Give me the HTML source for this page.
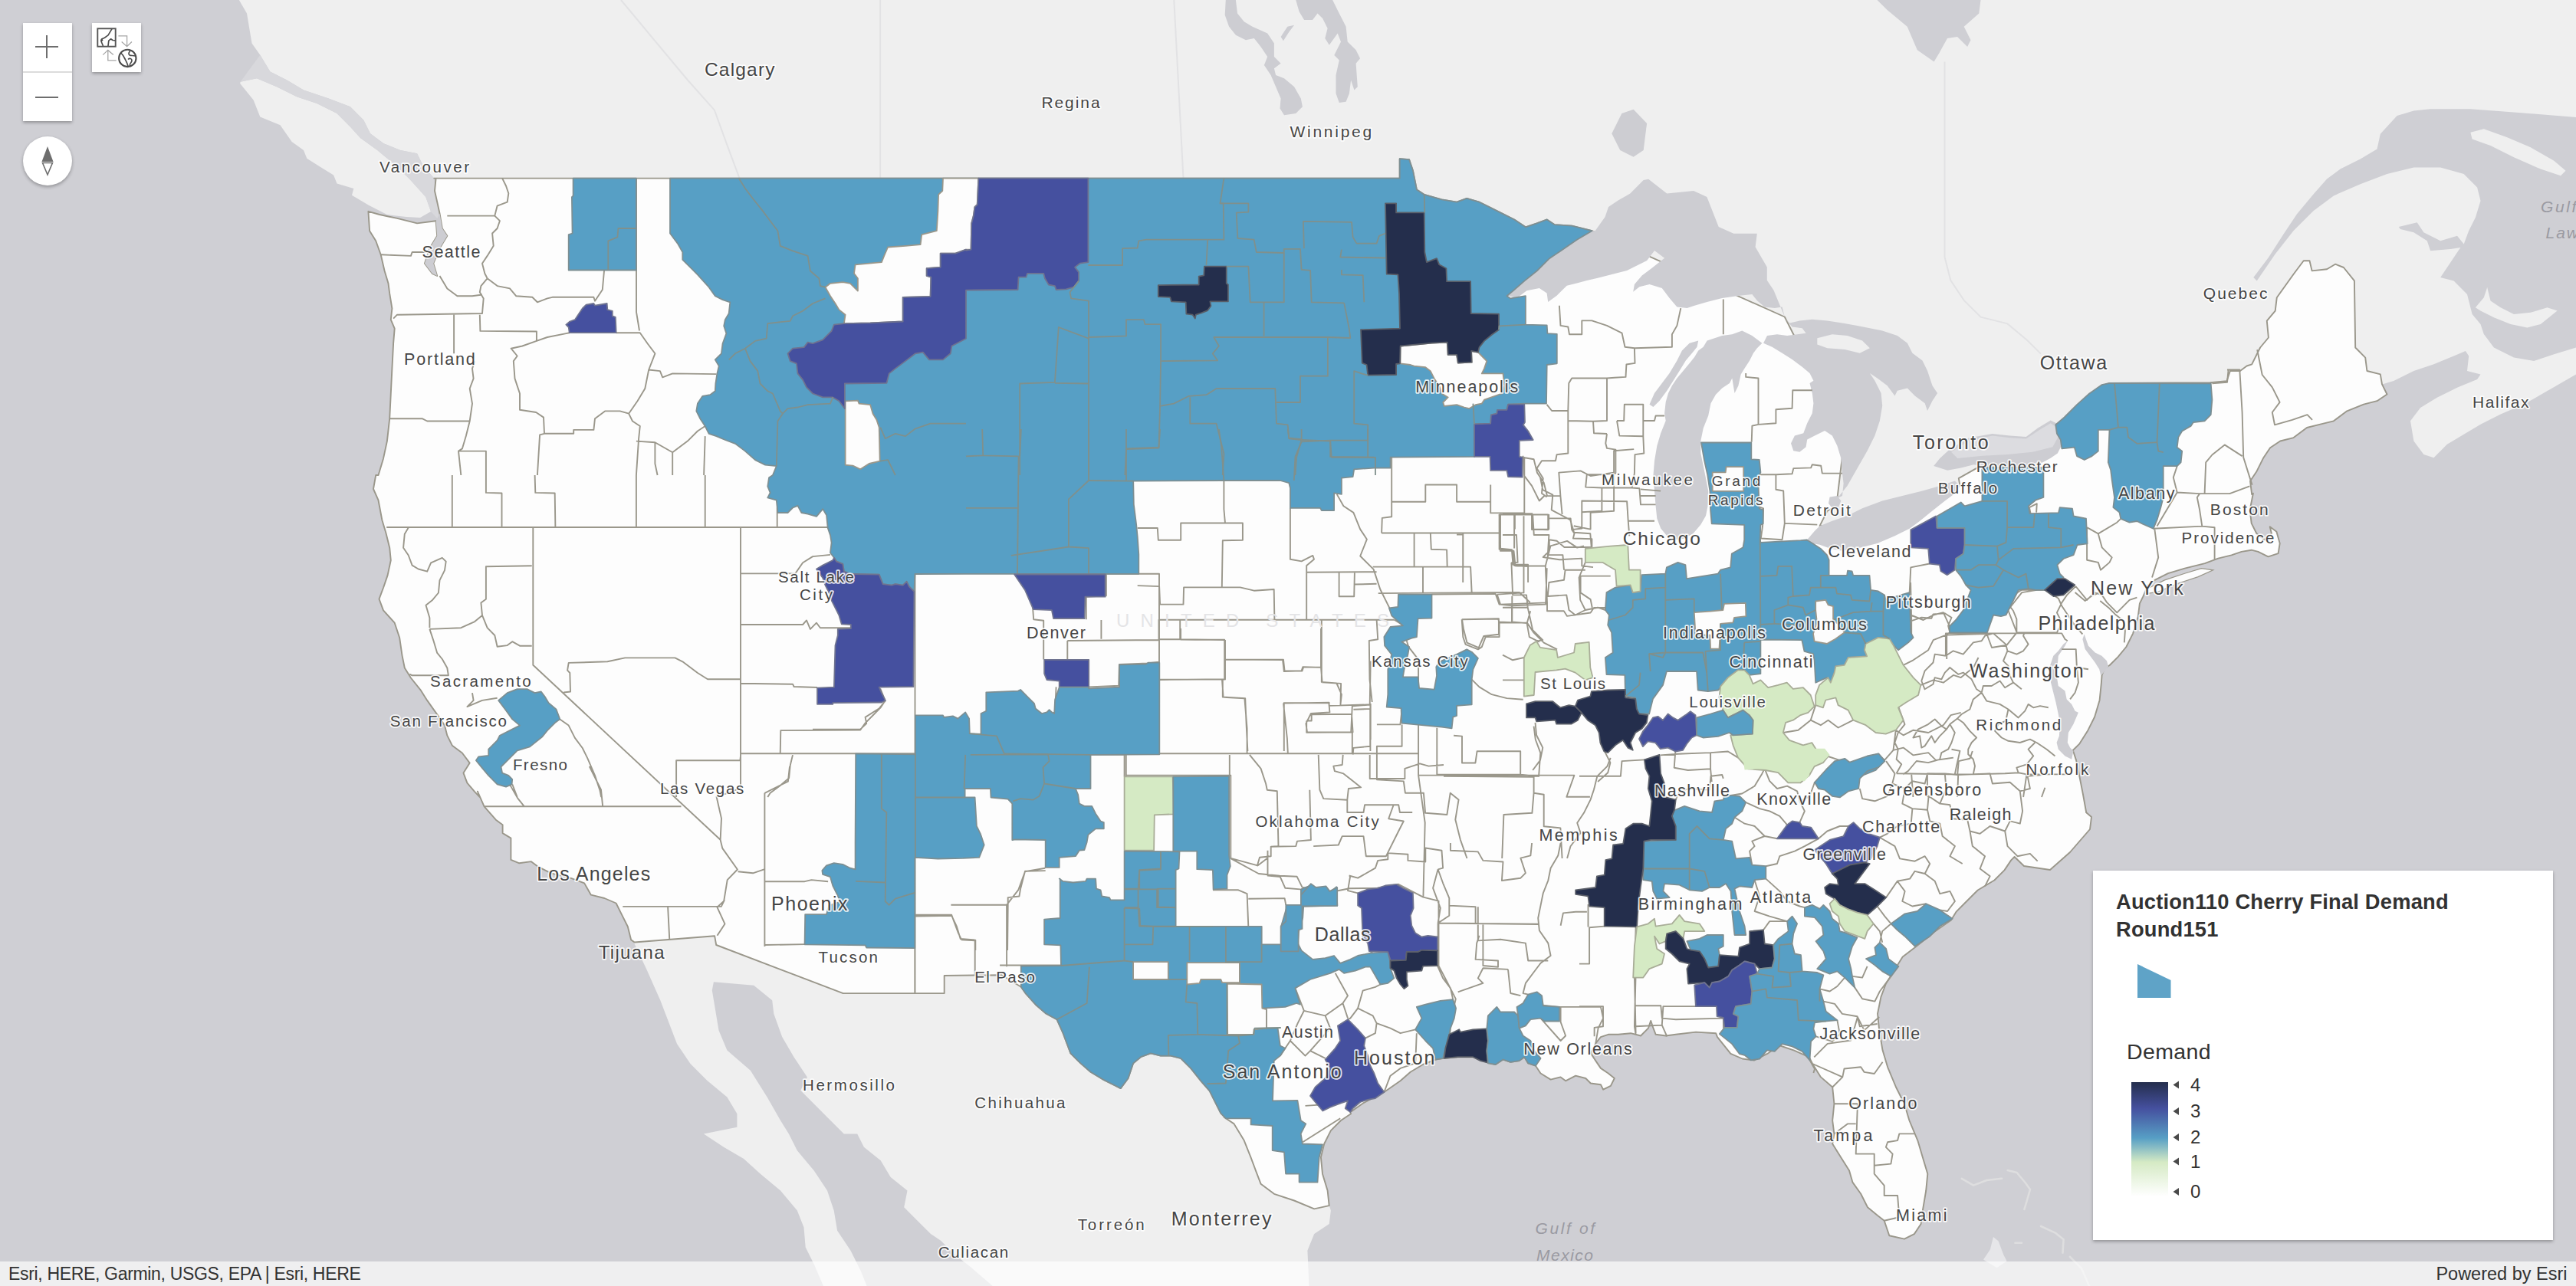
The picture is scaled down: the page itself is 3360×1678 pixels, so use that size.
<!DOCTYPE html>
<html><head><meta charset="utf-8"><title>Map</title>
<style>
html,body{margin:0;padding:0;background:#cfcfd4;}
body{width:3360px;height:1678px;overflow:hidden;position:relative;font-family:"Liberation Sans",sans-serif;}
svg text{font-family:"Liberation Sans",sans-serif;}
#map{position:absolute;left:0;top:0;}
.w{position:absolute;background:#fff;box-shadow:0 2px 4px rgba(0,0,0,.3);}
#zoom{left:30px;top:30px;width:64px;height:128px;}
#zoom .d{position:absolute;left:0;top:63px;width:64px;height:2px;background:#dcdcdc;}
#bm{left:120px;top:30px;width:64px;height:64px;}
#cmp{left:30px;top:178px;width:64px;height:64px;border-radius:50%;}
#legend{left:2730px;top:1136px;width:600px;height:482px;box-shadow:0 2px 4px rgba(0,0,0,.3);}
#legend .t{position:absolute;left:30px;top:23px;font-weight:bold;font-size:27.3px;line-height:35.5px;color:#323232;letter-spacing:0.2px;white-space:nowrap;}
#legend .dm{position:absolute;left:44px;top:219.5px;font-size:28.5px;color:#323232;letter-spacing:0.4px;}
#legend .n{position:absolute;left:127px;font-size:24px;color:#323232;line-height:24px;}
#attr{position:absolute;left:0;top:1646px;width:3360px;height:32px;background:rgba(255,255,255,.66);font-size:24px;line-height:32px;color:#323232;}
#attr .l{position:absolute;left:11px;top:0;font-size:23px;letter-spacing:-0.33px}
#attr .r{position:absolute;right:11.5px;top:0;font-size:23.5px;letter-spacing:0px}
</style></head><body>
<svg id="map" width="3360" height="1678" viewBox="0 0 3360 1678">
<rect width="3360" height="1678" fill="#cfcfd4"/>
<polygon points="305,-5 2449,-5 2448.5,0 2461.6,13.1 2487.7,34.8 2500.8,65.3 2522.6,80.6 2529.1,69.7 2540,50.1 2553,47.9 2566.1,61 2570.5,52.3 2561.7,34.8 2581.3,17.4 2583.5,0 3370,-5 3370,153 3366.1,153.1 3360,153.1 3279,146.5 3222.4,142.2 3170.1,142.2 3148.4,144.4 3126.6,150.9 3104.8,174.8 3100.5,194.4 3078.7,207.5 3052.6,220.6 3035.1,233.6 3017.7,253.2 2996,279.3 2978.5,305.5 2958.9,336 2939.3,362.1 2943.7,366.4 2967.7,331.6 2991.6,301.1 3017.7,275 3043.9,255.4 3078.7,240.2 3113.5,227.1 3148.4,218.4 3183.2,218.4 3213.7,227.1 3231.1,244.5 3235.5,261.9 3228.9,283.7 3220.2,301.1 3213.7,318.5 3205,307.7 3183.2,314.2 3161.4,303.3 3152.7,290.2 3128.8,295.9 3130.9,298.9 3148.4,303.3 3165.8,314.2 3170.1,327.2 3196.3,325.1 3209.3,322.9 3183.2,362.1 3200.6,366.4 3218,383.9 3224.6,410 3235.5,423 3239.8,436.1 3239.8,436.1 3252.9,453.5 3279,466.6 3305.1,470.9 3331.3,462.2 3360,453.5 3366.1,451.4 3366.1,484 3360,488.4 3322.6,510.1 3292.1,527.6 3261.6,540.6 3235.5,553.7 3213.7,566.7 3191.9,579.8 3174.5,597.2 3161.4,592.9 3148.4,575.5 3144,549.3 3157.1,531.9 3178.8,518.8 3205,505.8 3231.1,494.9 3235.5,488.4 3218,484 3220.2,464.4 3215.9,457.9 3200.6,464.4 3174.5,475.3 3148.4,484 3122.2,497.1 3107,501.4 3107,501.4 3113.5,514.5 3100.5,523.2 3083,527.6 3061.3,536.3 3043.9,549.3 3026.4,553.7 3009,558 2991.6,571.1 2974.2,575.5 2961.1,584.2 2952.4,597.2 2943.7,614.7 2935,627.7 2937.2,645.1 2938.9,643.7 2934.6,665.5 2936.7,682.9 2943.3,696 2954.2,704.7 2962.9,696 2960.7,687.2 2969.4,693.8 2973.7,709 2971.6,722.1 2958.5,726.4 2945.4,719.9 2936.7,717.7 2923.7,719.9 2910.6,724.3 2893.2,728.6 2875.8,735.1 2849.6,741.7 2827.9,748.2 2810.5,756.9 2801.7,763.5 2795.2,778.7 2790.9,787.4 2788.7,804.8 2782.1,826.6 2773.4,844 2762.6,857.1 2751.7,868 2745.1,872.3 2741.6,881 2740.8,891.9 2738.6,913.7 2732.1,935.5 2723.4,952.9 2712.5,970.3 2703.8,979 2708.1,992.1 2712.5,1013.8 2716.8,1035.6 2721.2,1060 2721,1060 2728,1066 2726,1082 2700,1112 2674,1135 2640,1130 2627.6,1118 2623.2,1122.4 2614.5,1135.4 2601.4,1148.5 2579.7,1161.5 2562.2,1179 2551.4,1189.9 2544.8,1200.7 2523,1216 2501.3,1233.4 2481.7,1248.6 2470.8,1266.1 2459.9,1283.5 2453.4,1300.9 2449,1322.7 2451.2,1344.4 2455.6,1370.6 2462.1,1392.3 2473,1418.5 2483.9,1440.2 2490.4,1462 2501.3,1488.1 2507.8,1509.9 2514.3,1531.7 2512.2,1553.5 2507.8,1579.6 2505.6,1597 2496.9,1610.1 2483.9,1616.6 2464.3,1612.2 2457.7,1592.7 2449,1586.1 2436,1575.2 2427.2,1557.8 2416.4,1542.6 2412,1527.3 2401.1,1509.9 2390.2,1492.5 2392.4,1479.4 2390.2,1462 2392.4,1440.2 2390.2,1418.5 2375,1405.4 2364.1,1388 2359.8,1379.3 2340.2,1370.6 2320.6,1364 2305.3,1374.9 2287.9,1383.6 2272.7,1381.5 2257.4,1374.9 2240,1353.1 2238.1,1348.2 2212,1346.6 2185.8,1349.8 2172.8,1351.5 2159.7,1349.8 2156.5,1341.7 2153.2,1331.9 2149.9,1341.7 2140.1,1351.5 2127.1,1348.2 2110.7,1349.8 2097.7,1349.8 2087.9,1353.1 2081.3,1361.3 2074.8,1374.3 2081.3,1384.1 2087.9,1393.9 2097.7,1400.5 2105.8,1407 2100.9,1416.8 2091.1,1421.7 2087.9,1415.2 2074.8,1413.5 2068.3,1407 2055.2,1403.7 2042.1,1410.3 2035.6,1405.4 2022.6,1408.6 2009.5,1400.5 2003,1390.7 1993.2,1387.4 1988.3,1379.2 1981.7,1384.1 1970.3,1385.8 1960.5,1382.5 1950.7,1389 1940.9,1386.7 1921.3,1379.2 1901.7,1379.2 1883.7,1380.9 1872.3,1382.5 1856,1389 1839.7,1398.8 1826.6,1410.3 1805.4,1425 1777.6,1439.7 1761.3,1451.1 1762.1,1453.3 1749,1462 1735.9,1475.1 1727.2,1492.5 1722.9,1509.9 1725,1531.7 1731.6,1553.5 1733.7,1573.1 1733.7,1573.1 1735.9,1579.6 1733.7,1597 1714.2,1610.1 1705.4,1631.8 1707.6,1679.7 1296.7,1679.7 1266.3,1653.6 1244.5,1636.2 1227.1,1618.8 1214,1610.1 1196.6,1592.7 1179.2,1575.2 1183.5,1553.5 1161.7,1536 1148.7,1514.3 1126.9,1496.8 1118.2,1479.4 1100.8,1479.4 1079,1457.7 1061.6,1440.2 1044.2,1422.8 1052.9,1405.4 1035.5,1379.3 1020.2,1353.1 1009.3,1322.7 1007.2,1305.2 983.2,1285.7 930.9,1281.3 928.8,1292.2 937.5,1344.4 948.4,1370.6 978.8,1396.7 1000.6,1431.5 1018,1462 1028.9,1479.4 1039.8,1501.2 1061.6,1527.3 1079,1553.5 1087.7,1579.6 1092.1,1605.7 1109.5,1631.8 1122.6,1658 1131.3,1679.7 1074.7,1679.7 1061.6,1649.3 1050.7,1627.5 1048.5,1601.4 1039.8,1579.6 1018,1553.5 991.9,1531.7 970.1,1512.1 944,1496.8 917.9,1479.4 961.4,1470.7 961.4,1453.3 948.4,1431.5 922.2,1409.8 900.5,1388 883,1361.9 861.3,1305.2 843.9,1266.1 826.4,1229 827.6,1229.5 823.2,1226.4 818.8,1209 810.1,1191.6 803.6,1178.5 788.4,1172 770.9,1167.7 762.2,1152.4 744.8,1145.9 718.7,1139.3 701.3,1130.6 692.6,1124.1 677.3,1126.3 666.4,1121.9 666.4,1093.6 655.6,1087.1 655.6,1076.2 646.8,1069.7 631.6,1052.3 622.9,1032.7 625.8,1040 619.2,1033.1 609.4,1021.7 604.5,1008.6 612.7,995.6 602.9,982.5 589.8,972.7 583.3,959.7 580,946.6 573.5,936.8 565.3,925.4 557.2,913.9 549,900.9 535.9,884.5 527.8,871.5 524.5,855.1 521.2,832.3 514.7,812.7 500,796.4 494.5,781.7 500,767 505.6,750.6 509.8,731 508.2,714.7 503.3,695.1 498.4,678.8 493.5,652.7 487,638 490.2,620 493.5,620 500,598.4 504.9,575.6 508.2,546.2 509.8,513.5 511.4,480.9 513.1,448.2 514.7,428.6 509.8,417.2 511.4,402.5 508.2,382.9 506.5,369.8 501.6,353.5 496.7,332.3 490.2,314.3 482.1,301.2 480.4,275.8 495.1,280 518,284.9 544.1,291.4 568.6,288.2 570.2,307.8 560.4,324.1 553.9,343.7 563.7,356.8 570.2,360 565.3,343.7 573.5,324.1 583.3,307.8 576.8,298 573.5,278.4 567,249 568.6,232.7 566.2,232.6 552.7,217.7 544,200.3 522.2,196 500.5,187.2 483,174.2 474.3,156.8 456.9,139.3 428.6,128.5 396,117.6 374.2,104.5 352.4,93.6 339.3,71.8 328.5,56.6 322,17.4 308.9,-5" fill="#efefef"/>
<polygon points="313.6,106.7 335,102.3 361,113.2 387.2,126.3 413.4,135 439.5,148 456.9,165.5 470,180 492.2,196 518.3,217.8 535.7,235.2 555.3,257 562,276 548,284 530,283 504.8,280 480.9,267.8 459,254.7 461.3,246 439.5,239.5 435.1,228.6 417.7,217.7 400.3,206.8 396,196 380.7,185 365.5,163.3 339.3,152.4 330.6,130.6 313.2,108.9" fill="#efefef"/>
<polygon points="3222.4,172.7 3239.8,168.3 3270.3,179.2 3300.8,192.3 3331.3,209.7 3346.5,222.7 3340,229.3 3313.8,220.6 3279,205.3 3248.5,190.1 3224.6,181.4" fill="#efefef"/>
<polygon points="3228.9,401.3 3239.8,388.2 3244.2,375.1 3248.5,392.6 3261.6,401.3 3279,410 3300.8,407.8 3322.6,401.3 3335.6,405.6 3313.8,423 3296.4,427.4 3274.7,423 3252.9,414.3 3235.5,405.6" fill="#efefef"/>
<polygon points="339.3,71.8 352.4,93.6 374.2,104.5 396,117.6 428.6,128.5 456.9,139.3 474.3,156.8 483,174.2 500.5,187.2 522.2,196 544,200.3 552.7,217.7 566.2,232.6 568,255 575,290 562,276 555.3,257 535.7,235.2 518.3,217.8 492.2,196 470,180 456.9,165.5 439.5,148 413.4,135 387.2,126.3 361,113.2 335,102.3 313.6,106.7" fill="#d8d8dc"/>
<polygon points="2102.3,174.2 2115.4,148.1 2130.6,142.8 2148.1,161.1 2143.7,196 2130.6,204.7 2113.2,196" fill="#cdcdd2"/>
<polygon points="1598.8,0 1611.9,0 1614,17.4 1622.7,28.3 1633.6,34.8 1653.2,43.5 1661.9,56.6 1661.9,74 1670.6,82.7 1661.9,89.3 1664.1,98 1675,102.3 1688.1,113.2 1696.8,128.5 1698.9,139.3 1690.2,148.1 1675,150.2 1669.5,141.5 1670.6,128.5 1664.1,113.2 1657.6,98 1648.9,84.9 1653.2,74 1644.5,61 1635.8,50.1 1624.9,52.3 1611.9,45.7 1603.1,34.8 1597.7,19.6" fill="#cdcdd2"/>
<polygon points="1690.2,0 1738.1,0 1746.8,17.4 1755.6,34.8 1757.7,54.4 1768.6,65.3 1774.1,76.2 1768.6,82.7 1770.8,113.2 1766.4,117.6 1762.1,104.5 1759.9,121.9 1755.6,132.8 1746.8,133.9 1742.5,121.9 1742.5,98 1746.8,78.4 1740.3,71.9 1749,54.4 1744.7,43.5 1733.8,58.8 1728.3,50.1 1731.6,37 1725.1,24 1718.5,17.4 1712,26.1 1701.1,26.1 1694.6,15.2" fill="#cdcdd2"/>
<polygon points="1670.6,47.9 1679.3,34.8 1688.1,32.7 1681.5,41.4 1673.9,53.3" fill="#cdcdd2"/>
<polyline points="2558.8,1537.8 2574,1546.6 2591.4,1540 2611,1537.8" fill="none" stroke="#dededf" stroke-width="2.6" stroke-linecap="round" stroke-linejoin="round"/>
<polyline points="2618.7,1527 2630.6,1530 2641.5,1543 2648,1552 2643.7,1567 2640.4,1578" fill="none" stroke="#dededf" stroke-width="2.6" stroke-linecap="round" stroke-linejoin="round"/>
<polyline points="2662,1600 2680.7,1608.6 2691.6,1617.3 2690.5,1634.7" fill="none" stroke="#dededf" stroke-width="2.6" stroke-linecap="round" stroke-linejoin="round"/>
<polyline points="2628.5,1621.7 2637,1621.7" fill="none" stroke="#dededf" stroke-width="2.6" stroke-linecap="round" stroke-linejoin="round"/>
<polyline points="2700,1640 2715,1655 2725,1678" fill="none" stroke="#dededf" stroke-width="2.6" stroke-linecap="round" stroke-linejoin="round"/>
<polygon points="2600,1614 2606.7,1619.5 2613.2,1637 2617.6,1645.6 2604.5,1654.3 2587,1643.4 2595.8,1630.4" fill="#e6e6e9"/>
<polyline points="2536.5,80.6 2536.5,335.3 2544.3,365.8 2561.7,391.9 2583.5,413.7 2618.4,422.4 2644.5,444.2 2661.9,461.6" fill="none" stroke="#e2e2e4" stroke-width="2"/>
<polyline points="1148.1,0 1148.1,232.5" fill="none" stroke="#e2e2e4" stroke-width="2"/>
<polyline points="1531.3,0 1543.5,232.5" fill="none" stroke="#e2e2e4" stroke-width="2"/>
<polyline points="810,0 853.5,52.3 897,104.5 931.9,143.7 949.3,191.6 964.5,232.5" fill="none" stroke="#e2e2e4" stroke-width="2"/>
<polygon points="568.6,232.7 567,249 573.5,278.4 576.8,298 583.3,307.8 573.5,324.1 565.3,343.7 570.2,360 563.7,356.8 553.9,343.7 560.4,324.1 570.2,307.8 568.6,288.2 544.1,291.4 518,284.9 495.1,280 480.4,275.8 482.1,301.2 490.2,314.3 496.7,332.3 501.6,353.5 506.5,369.8 508.2,382.9 511.4,402.5 509.8,417.2 514.7,428.6 513.1,448.2 511.4,480.9 509.8,513.5 508.2,546.2 504.9,575.6 500,598.4 493.5,620 490.2,620 487,638 493.5,652.7 498.4,678.8 503.3,695.1 508.2,714.7 509.8,731 505.6,750.6 500,767 494.5,781.7 500,796.4 514.7,812.7 521.2,832.3 524.5,855.1 527.8,871.5 535.9,884.5 549,900.9 557.2,913.9 565.3,925.4 573.5,936.8 580,946.6 583.3,959.7 589.8,972.7 602.9,982.5 612.7,995.6 604.5,1008.6 609.4,1021.7 619.2,1033.1 625.8,1040 622.9,1032.7 631.6,1052.3 646.8,1069.7 655.6,1076.2 655.6,1087.1 666.4,1093.6 666.4,1121.9 677.3,1126.3 692.6,1124.1 701.3,1130.6 718.7,1139.3 744.8,1145.9 762.2,1152.4 770.9,1167.7 788.4,1172 803.6,1178.5 810.1,1191.6 818.8,1209 823.2,1226.4 827.6,1229.5 932.1,1221.2 934.2,1233 1099.7,1296.1 1231.7,1296.1 1231.7,1273 1306.6,1272.2 1331.8,1287.8 1337.6,1296 1350.7,1310.7 1363.8,1322.1 1378.5,1330.2 1386.6,1348.2 1391.5,1361.3 1396.4,1374.3 1409.5,1387.4 1422.6,1398.8 1438.9,1408.6 1455.2,1416.8 1461.7,1420.1 1471.5,1407 1478.1,1387.4 1487.9,1379.2 1500.9,1374.3 1514,1377.6 1527.1,1377.6 1540.1,1380.9 1553.2,1393.9 1566.3,1410.3 1577.7,1423.3 1585.8,1439.7 1592.4,1452.7 1598.9,1459.3 1596.6,1457.7 1609.6,1466.4 1622.7,1488.1 1631.4,1509.9 1637.9,1527.3 1644.5,1544.7 1661.9,1557.8 1688,1566.5 1714.2,1577.4 1733.7,1573.1 1731.6,1553.5 1725,1531.7 1722.9,1509.9 1727.2,1492.5 1735.9,1475.1 1749,1462 1762.1,1453.3 1761.3,1451.1 1777.6,1439.7 1805.4,1425 1826.6,1410.3 1839.7,1398.8 1856,1389 1872.3,1382.5 1883.7,1380.9 1901.7,1379.2 1921.3,1379.2 1940.9,1386.7 1950.7,1389 1960.5,1382.5 1970.3,1385.8 1981.7,1384.1 1988.3,1379.2 1993.2,1387.4 2003,1390.7 2009.5,1400.5 2022.6,1408.6 2035.6,1405.4 2042.1,1410.3 2055.2,1403.7 2068.3,1407 2074.8,1413.5 2087.9,1415.2 2091.1,1421.7 2100.9,1416.8 2105.8,1407 2097.7,1400.5 2087.9,1393.9 2081.3,1384.1 2074.8,1374.3 2081.3,1361.3 2087.9,1353.1 2097.7,1349.8 2110.7,1349.8 2127.1,1348.2 2140.1,1351.5 2149.9,1341.7 2153.2,1331.9 2156.5,1341.7 2159.7,1349.8 2172.8,1351.5 2185.8,1349.8 2212,1346.6 2238.1,1348.2 2240,1353.1 2257.4,1374.9 2272.7,1381.5 2287.9,1383.6 2305.3,1374.9 2320.6,1364 2340.2,1370.6 2359.8,1379.3 2364.1,1388 2375,1405.4 2390.2,1418.5 2392.4,1440.2 2390.2,1462 2392.4,1479.4 2390.2,1492.5 2401.1,1509.9 2412,1527.3 2416.4,1542.6 2427.2,1557.8 2436,1575.2 2449,1586.1 2457.7,1592.7 2464.3,1612.2 2483.9,1616.6 2496.9,1610.1 2505.6,1597 2507.8,1579.6 2512.2,1553.5 2514.3,1531.7 2507.8,1509.9 2501.3,1488.1 2490.4,1462 2483.9,1440.2 2473,1418.5 2462.1,1392.3 2455.6,1370.6 2451.2,1344.4 2449,1322.7 2453.4,1300.9 2459.9,1283.5 2470.8,1266.1 2481.7,1248.6 2501.3,1233.4 2523,1216 2544.8,1200.7 2551.4,1189.9 2562.2,1179 2579.7,1161.5 2601.4,1148.5 2614.5,1135.4 2623.2,1122.4 2627.6,1118 2640,1130 2674,1135 2700,1112 2726,1082 2728,1066 2721,1060 2721.2,1060 2716.8,1035.6 2712.5,1013.8 2708.1,992.1 2703.8,979 2712.5,970.3 2723.4,952.9 2732.1,935.5 2738.6,913.7 2740.8,891.9 2741.6,881 2745.1,872.3 2751.7,868 2762.6,857.1 2773.4,844 2782.1,826.6 2788.7,804.8 2790.9,787.4 2795.2,778.7 2801.7,763.5 2810.5,756.9 2827.9,748.2 2849.6,741.7 2875.8,735.1 2893.2,728.6 2910.6,724.3 2923.7,719.9 2936.7,717.7 2945.4,719.9 2958.5,726.4 2971.6,722.1 2973.7,709 2969.4,693.8 2960.7,687.2 2962.9,696 2954.2,704.7 2943.3,696 2936.7,682.9 2934.6,665.5 2938.9,643.7 2937.2,645.1 2935,627.7 2943.7,614.7 2952.4,597.2 2961.1,584.2 2974.2,575.5 2991.6,571.1 3009,558 3026.4,553.7 3043.9,549.3 3061.3,536.3 3083,527.6 3100.5,523.2 3113.5,514.5 3107,501.4 3107,501.4 3104.8,488.4 3087.4,484 3085.2,466.6 3072.2,453.5 3070.9,366.4 3056.9,349 3046,344.7 3035.1,351.2 3015.6,353.4 3012.5,340.3 3004.7,340.3 2991.6,357.7 2969.8,388.2 2967.7,405.6 2956.8,418.7 2958.9,440.5 2948.1,453.5 2943.7,462.2 2937.2,475.3 2930.6,477.5 2921.9,484 2908.9,484 2904.5,497.1 2882.7,499.3 2751,500 2748.2,501.3 2726.4,518.7 2700.3,540.5 2685,562.2 2618.5,588.2 2554.8,624.1 2556.5,633.9 2455.2,682.9 2373.6,686.2 2383.4,666.6 2389.9,663.3 2396.4,650.3 2406.2,568.6 2327.8,413.5 2076.5,301.2 2050.4,294.7 2027.5,293.1 2017.7,286.5 2004.6,291.4 1989.9,296.3 1975.2,286.5 1958.9,278.4 1942.6,270.2 1929.5,263.7 1913.2,258.8 1900.1,263.7 1880.5,260.4 1857.7,253.9 1847.9,247.4 1843,222.9 1838.1,208.2 1825.7,207.2 1825.7,232.7 566.2,232.6" fill="#fdfdfd" stroke="#9a978b" stroke-width="1.9" stroke-linejoin="round"/>
<polygon points="2080.6,301.3 2093.6,283 2098,270 2111,261.3 2126.3,252.6 2143.7,235.1 2150.2,233.8 2174.2,252.6 2209,249.1 2226.4,256.9 2241.7,296.1 2261.3,304.8 2291.8,304.8 2289.6,322.2 2304.8,348.4 2304.8,365.8 2313.5,378.8 2327.8,413.5 2324.6,400.4 2314.8,402.1 2301.7,400.4 2291.9,392.3 2285.4,384.1 2269.1,385.7 2246.2,389 2226.6,393.9 2210.3,398.8 2200.5,402.1 2187.4,400.4 2177.6,389 2167.8,375.9 2151.5,371 2138.4,374.3 2130.2,380.8 2131.9,371 2141.7,359.6 2154.7,349.8 2171.1,336.7 2158,326.9 2148.2,340 2135.1,346.5 2122.1,353.1 2102.5,358 2082.9,362.9 2069.8,366.1 2056.8,369.4 2043.7,372.7 2030.6,385.7 2019.2,393.9 2017.6,382.5 2007.8,375.9 1991.4,379.2 1978.4,389 1965.3,385.7 1965.4,386.2 1975.2,378 1988.3,366.6 2004.6,353.5 2021,337.2 2040.6,324.1 2056.9,312.7 2076.5,301.2" fill="#cdcdd2"/>
<polygon points="2298.4,447.8 2285.4,438 2272.3,431.4 2259.3,436.3 2246.2,438 2236.4,441.2 2226.6,444.5 2221.7,452.7 2215.2,457.6 2210.3,465.7 2203.7,473.9 2195.6,483.7 2187.4,493.5 2180.9,503.3 2176,513.1 2172.7,524.5 2171.1,539.2 2172.7,549 2166.2,565.3 2161.3,581.7 2158,601.3 2156.4,620.9 2158,640.5 2159.6,660.1 2161.3,676.4 2166.2,689.5 2174.3,699.3 2185.8,704.2 2197.2,702.5 2208.6,696 2218.4,684.6 2225,673.1 2228.2,656.8 2228.2,640.5 2225,624.1 2221.7,607.8 2218.4,591.5 2218.4,575.1 2221.7,558.8 2228.2,542.5 2231.5,526.2 2238,514.7 2246.2,506.6 2256,500 2259.3,493.5 2262.5,513.1 2267.4,503.3 2270.7,488.6 2275.6,480.4 2282.1,470.6 2287,460.8 2291.9,454.3" fill="#cdcdd2"/>
<polygon points="2151.5,527.8 2158,513.1 2167.8,500 2177.6,487 2187.4,470.6 2193.9,457.6 2203.7,447.8 2215.2,444.5 2213.5,452.7 2207,460.8 2198.8,470.6 2190.7,483.7 2182.5,496.8 2174.3,509.8 2164.5,522.9 2156.4,531.1" fill="#cdcdd2"/>
<polygon points="2300.1,447.8 2311.5,452.7 2324.6,460.8 2337.6,469 2350.7,478.8 2360.5,487 2365.4,496.8 2360.5,500 2363.8,513.1 2365.4,526.2 2363.8,539.2 2357.2,552.3 2352.3,565.3 2340.9,568.6 2336,578.4 2339.3,588.2 2347.4,589.8 2355.6,583.3 2357.2,573.5 2367,568.6 2380.1,562.1 2389.9,568.6 2396.4,581.7 2401.3,598 2403,617.6 2404.6,630.7 2403,647 2396.4,650.3 2409.5,633.9 2422.6,611.1 2435.6,588.2 2445.4,568.6 2451.9,549 2455.2,529.4 2453.6,513.1 2445.4,496.8 2438.9,487 2448.7,493.5 2461.7,503.3 2471.5,516.4 2474.8,509.8 2487.9,506.6 2497.7,516.4 2510.7,526.2 2514,536 2520.5,522.9 2527.1,513.1 2520.5,503.3 2514,483.7 2507.5,470.6 2494.4,460.8 2487.9,447.8 2474.8,438 2455.2,431.4 2438.9,428.2 2422.6,424.9 2403,421.6 2383.4,418.4 2363.8,416.7 2347.4,418.4 2334.4,421.6 2327.8,415.1 2337.6,426.5 2350.7,428.2 2355.6,434.7 2344.2,436.3 2331.1,438 2318,436.3 2305,438" fill="#cdcdd2"/>
<polygon points="2357.2,704.2 2367,692.7 2373.6,686.2 2389.9,679.7 2409.5,673.1 2429.1,663.3 2455.2,653.5 2481.3,647 2507.5,640.5 2530.3,633.9 2549.9,627.4 2556.5,633.9 2549.9,643.7 2536.9,653.5 2520.5,666.6 2504.2,679.7 2491.1,689.5 2471.5,699.3 2448.7,709.1 2422.6,715.6 2403,718.8 2386.6,715.6 2373.6,710.7 2363.8,709.1" fill="#cdcdd2"/>
<polygon points="2386.6,648.6 2396.4,647 2401.3,653.5 2398.1,661.7 2389.9,663.3 2385,656.8" fill="#cdcdd2"/>
<polygon points="2522.2,608.1 2530.3,598 2543.4,585.9 2567.6,571.6 2598.6,566 2621.8,568.6 2642.7,569.9 2657.7,558.8 2674.7,548.4 2682.2,552.3 2688.1,562.1 2688.7,581.7 2683.8,591.5 2674.7,597.7 2651.8,610.1 2628.3,612.7 2608.7,611.7 2574.4,606.2 2557.8,610.4 2540.1,613.7" fill="#cdcdd2"/>
<polygon points="2700.1,975.6 2696.8,969 2697.9,956 2704.4,945.1 2710.9,929.8 2706.6,927.7 2702.2,918.9 2695.7,912.4 2693.5,901.5 2684.8,895 2682.6,881.9 2683.7,868.9 2684.8,855.8 2693.5,842.7 2696.8,836.2 2691.4,840.6 2684.8,849.3 2678.3,855.8 2673.9,868.9 2675,890.6 2678.3,903.7 2681.6,916.8 2684.8,932 2687,945.1 2685.9,960.3 2682.6,969 2684.8,977.7 2693.5,986.4 2702.2,990.8 2704.4,979.9" fill="#cdcdd2"/>
<polygon points="2718.6,827.5 2724,842.7 2732.7,851.4 2741.4,855.8 2748,862.3 2750.1,870 2748,872.1 2740.3,881.9 2738.2,873.2 2732.7,864.5 2726.2,855.8 2719.7,847.1 2716.4,834" fill="#cdcdd2"/>
<polygon points="573.5,278.4 576.8,298 583.3,307.8 573.5,324.1 565.3,343.7 570.2,360 563.7,356.8 553.9,343.7 560.4,324.1 570.2,307.8 568.6,288.2" fill="#cdcdd2"/>
<polygon points="2569.5,574.5 2598.9,568.6 2621.8,571.2 2642.7,572.5 2661,560.5 2674.7,552.3 2682.2,557.2 2685.5,568.6 2677.3,583.3 2651.2,589.8 2618.5,593.1 2585.8,594.7 2553.2,598 2545,589.8" fill="#dcdce0"/>
<polygon points="2370.3,441.2 2389.9,436.3 2409.5,438 2429.1,444.5 2438.9,454.3 2425.8,460.8 2406.2,455.9 2383.4,454.3 2370.3,449.4" fill="#efefef"/>
<polygon points="2801.7,767.8 2823.5,756.9 2849.6,748.2 2871.4,741.7 2886.7,743.9 2867.1,752.6 2840.9,761.3 2814.8,772.2 2801.7,774.3" fill="#fdfdfd" stroke="#9a978b" stroke-width="1.2"/>
<path d="M830 232.6 L830 407.2 L834 431.5M504.2 688 L1102.5 688M695.3 688 L695.3 867.7 L939.6 1095.8M939.6 1095.8 L942.3 1106.9 L961.9 1134.5 L948.7 1148.2 L944.2 1175.6 L935.5 1183.8 L945.5 1205.6 L935.5 1220.7M939.6 1095.8 L941 1067.9 L934.6 1039.8 L966 1028.6 L966 688M966 983.2 L1850.1 983.2M1193.5 748.8 L1193.5 1295.4M1102.5 533.1 L1102.5 748.8 L1193.5 748.8M1421 748.8 L1512 748.8 L1512 983.2M1512 808.7 L1818.7 808.7M1468.8 983.2 L1468.8 1011.6 L1467 1259.5 L1304.1 1259.5M1468.8 1011.6 L1605.3 1011.6 L1605.3 1120.1 L1641.7 1140 L1669 1142.7 L1691.7 1143.8 L1698.5 1157.6 L1732.7 1164.7 L1760 1159.2 L1796.4 1158.7 L1823.7 1153.7 L1856.4 1170.7M1850.1 983.2 L1850.1 1011.6 L1858.7 1073.5 L1856.4 1170.7 L1876.5 1175.6 L1876.5 1260.1 L1887.4 1281 L1898.8 1303.4 L1891.9 1334.1 L1891 1360.5 L1885.1 1381.5M1876.5 1204.5 L2007 1205.6M1850.1 1011.6 L2053.4 1011.6 L2043.4 1039.8 L2073.9 1039.8M1850.1 983.2 L1850.1 860.6 L1837.3 844.2 L1828.2 814.6 L1818.7 808.7M1797.7 774.1 L1981.6 772.9 L1995.7 786M655.1 232.7 L660 242.5 L663.3 252.3 L661.7 263.7 L648.6 268.6 L645.3 281.6 L651.9 288.2 L648.6 298 L642.1 304.5 L643.7 320.8 L635.6 333.9 L629 343.7 L632.3 356.8 L635.6 363.3M583.3 281.6 L645.3 281.6M496.7 332.3 L535.9 333.9 L537.6 329 L557.2 329M635.6 363.3 L648.6 373.1 L664.9 376.4 L673.1 386.2 L694.3 387.8 L700.9 394.3 L713.9 389.4 L720.5 387.8 L774.4 387.8 L776 392.7 L785.8 378 L788.1 352.5M635.6 363.3 L627.4 373.1 L625.8 381.3 L630.7 389.4 L629 409 L518 410.7 L513.1 415.6M573.5 360 L583.3 376.4 L596.4 386.2 L616 386.2 L629 384.5M592.1 410.7 L592.1 461.3M625.8 410.7 L626.4 431.9 L699.9 432.5 L699.9 444.9 L681.3 451.5 L666.6 454.7 L674.7 464.5 L669.8 471.1 L671.5 493.9 L678 513.5 L678 534.8 L699.2 538 L709 544.6 L710 565.8 L704.1 567.4 L700.9 620M699.9 444.9 L713.9 440 L738.4 435.1 L742.7 434.2M803.7 434.2 L834.8 434.2 L844.6 448.2 L854.4 461.3 L846.2 482.5 L841.3 507 L831.5 523.3 L820.1 539.7 L825 549.5 L834.8 556 L833.1 572.3 L829.9 620M846.2 482.5 L860.9 484.1 L864.2 492.3 L877.2 487.4 L934.4 488.1M820.1 539.7 L808.6 536.4 L789.1 536.4 L776 546.2 L774.4 560.9 L748.2 560.9 L748.2 565.8 L710 565.8M829.9 575.6 L854.4 577.2 L877.2 590.3 L896.8 575.6 L909.9 562.5 L919.7 556M508.2 546.2 L550.6 546.2 L557.2 549.5 L612.7 549.5 L616 526.6 L612.7 507 L617.6 493.9 L616 480.9 L619.2 471.1M612.7 549.5 L607.8 569.1 L602.9 585.4 L598 588.6 L601.3 620M598 588.6 L633.9 588.6 L633.9 620M854.4 577.2 L854.4 605 L857.6 620M877.2 590.3 L877.2 620M919.7 569.1 L918.1 620M532.7 688.6 L527.8 696.7 L526.1 714.7 L532.7 724.5 L537.6 737.6 L545.7 742.5 L557.2 745.7 L562.1 734.3 L576.8 727.8 L581.7 732.7 L580 744.1 L573.5 757.2 L571.9 773.5 L563.7 783.3 L555.5 789.8 L560.4 806.2 L560.4 819.2M560.4 820.9 L601.3 819.2 L619.2 811.1 L629 802.9 L627.4 786.6 L633.9 781.7 L633.9 739.2 L693.7 738.2M629 802.9 L635.6 819.2 L645.3 829 L648.6 843.7 L661.7 842.1 L668.2 837.2 L678 842.7 L693.7 842.7M560.4 820.9 L565.3 835.6 L570.2 851.9 L576.8 860 L583.3 871.5 L584.9 881.3 L537.6 881.3 L534.3 879.6M616 904.1 L617.6 913.9 L609.4 922.1 L629 913.9 L648.6 910.7M730.3 938.4 L741.7 946.6 L749.9 962.9 L759.7 976 L766.2 989.1 L776 1011.9 L782.5 1031.5 L784.2 1040M668.2 1023.3 L674.7 1040M735.2 903.5 L744 902.5 L743.3 878 L740.1 874.7 L741.7 864.9 L792.3 863.3 L815.2 858.4 L880.5 858.4 L890.3 863.3 L909.9 878 L923 886.2 L965.4 886.2M966.1 748.4 L1037.3 748.4 L1047.1 734.3 L1060.1 726.1 L1083 723.9M966.1 815 L1047.1 815 L1052 809.4 L1056.9 820.9 L1065 812.7 L1069.9 819.2 L1109.8 819.2M966.1 891.7 L1034 892.7 L1035.6 896 L1066 897M1154.8 913.9 L1148.3 923.7 L1138.5 933.5 L1128.7 943.3 L1122.2 952.5 L1018.3 953.1 L1017.7 984.2M589.8 620 L589.8 688.6M633.9 620 L633.9 642.9 L654.5 643.5 L654.5 688.6M697.6 620 L698.3 642.9 L723.7 643.5 L724.4 688.6M829.9 620 L829.9 688.6M919.7 620 L919.7 688.6M1013.7 662.5 L1013.7 688.6M882.1 1040 L882.1 992.3 L965.4 992.3 L966.1 985.1M1034 985.1 L1030.7 998.8 L1029.1 1015.2 L1017.7 1025 L1004.6 1034.8 L1001.3 1040M1596.4 627 L1596.4 664.5 L1598 682.5 L1620.9 682.5 L1620.9 704.7 L1594.8 705.3 L1593.8 766.4M1483.7 689 L1509.8 689 L1510.8 704.7 L1540.2 704.7 L1540.2 682.5 L1598 682.5M1483.7 764.1 L1512.1 765.1 L1513.1 788.6 L1543.5 788.6 L1544.1 766.4 L1593.8 766.4 L1617.6 766.4 L1635.6 770.7 L1661.7 769 L1662.4 808.2M1682.9 662.9 L1682.9 729.8 L1697.6 732.4 L1712.3 724.9 L1714 729.8 L1704.2 738 L1704.2 808.2M1704.2 746.8 L1795.6 746.2M1746.6 746.8 L1746.6 778.2 L1766.2 778.2 L1766.9 746.8M1766.9 762.5 L1795.6 761.8M1802.1 695.5 L1955.6 695.5M1802.1 695.5 L1802.8 675.9 L1815.2 674.3 L1815.2 596.6M1815.2 654.7 L1859.3 654.7 L1859.3 632.5 L1900.1 632.5 L1900.1 654.7 L1944.2 654.7M1944.2 632.5 L1944.2 669.4 L1988.3 669.4M1955.6 671 L1955.6 716.8 L1973.6 718.4 L1975.2 738 L1993.2 739M1844.6 695.5 L1844.6 739.6M1865.8 695.5 L1866.8 716.8 L1887.1 717.4 L1887.7 739.6M1908.3 695.5 L1908.3 739.6M1790.7 739.6 L1918.1 739.6 L1919.7 773.9M1856 739.6 L1856 773.9M1988.3 595.9 L1988.3 669.4M1975.9 671 L1975.9 690.6M1998.1 671 L1998.1 690.6 L2019.3 691.3 L2019.3 671M1511.5 808.2 L1511.5 834.3 L1539.2 834.3 L1539.2 808.9M1436.4 808.9 L1436.4 833.7M1392.3 836 L1511.5 835M1598 835 L1598 886.6 L1512.1 886.6M1539.2 834.3 L1598 835M1598 860.5 L1673.1 861.1 L1674.8 876.1 L1697.6 875.2 L1699.3 870.3 L1723.8 870.9M1723.8 808.2 L1723.8 889.9 L1743.4 891.5 L1749.9 906.2 L1748.3 920.9M1594.8 886.6 L1594.8 909.5 L1624.2 911.1 L1625.8 948.6 L1627.4 980M1674.8 980 L1674.8 917.6 L1733.6 916.6 L1733.6 920.9 L1787.4 919.3 L1787.4 980M1704.2 940.5 L1710.7 940.5 L1710.7 932.3 L1763 931.7 L1764.6 955.2 L1704.2 955.8 L1704.2 940.5M1795.6 808.2 L1797.2 834.3 L1785.8 836 L1786.5 886.6 L1789.7 916M1867.5 775.6 L1950.7 774.9 L1955.6 788.6 L1972 790.2 L1972 811.5 L1991.6 813.1 L1994.8 831.1 L2007.9 837.6M1906.7 808.2 L1954 807.6 L1955.6 811.5 L1972 812.1M1906.7 808.2 L1908.3 831.1 L1911.6 840.9 L1927.9 847.4 L1932.8 844.1 L1937.7 831.1 L1955.6 831.1 L1955.6 811.5M1919.7 886.6 L1929.5 896.4 L1945.8 906.2 L1965.4 911.1 L1986.7 912.7M1972 790.2 L2016.1 788.6 L2017.7 741.3M1416.8 778.8 L1416.8 808.2M1442.9 749.4 L1442.9 777.2 L1416.8 778.8M1346.5 785.3 L1348.2 808.2 L1361.2 809.8 L1361.2 860.5M1392.3 836 L1392.3 860.5M1420 860.5 L1420 896.4 L1459.2 894.8 L1459.9 867 L1496.8 865.4 L1511.5 863.7M1420 896.4 L1420 940.5M1377.6 896.4 L1375.9 932.3M1512.3 887 L1597.2 886.3 L1597.2 834.7 L1540.1 834.7 L1540.1 820M1597.2 860.8 L1674 860.8 L1675.6 875.5 L1698.5 875.5 L1700.1 870.6 L1723 870.6 L1723 820M1594 887 L1595.6 909.8 L1623.4 911.4 L1626.6 950.6 L1626.6 984.3M1723 870.6 L1724.6 890.2 L1749.1 891.9 L1748.5 919.6M1674 917.3 L1733.4 917.3 L1734.4 929.4 L1709.9 931 L1703.4 944.1 L1705 955.5 L1762.2 955.5 L1763.8 921.2 L1786.7 919.6 L1787.7 862.5M1674 917.3 L1678.9 963.7 L1679.9 984.3M1763.8 955.5 L1763.8 984.3M1787.7 918 L1787.7 965.3M1603.8 984.9 L1603.8 1012.7M1629.9 984.9 L1644.6 1002.9 L1651.1 1022.5 L1652.8 1030.7 L1665.8 1032.3 L1667.5 1104.1M1719.7 984.9 L1721.4 1030.7 L1726.3 1042.1 L1757.3 1043.7 L1758.9 1029 L1775.2 1027.4 L1752.4 1009.4 L1740.9 1006.2 L1739.3 999.6 L1750.7 998 L1751.7 984.9M1786.7 984.9 L1786.7 1016 L1832.4 1016 L1832.4 1002.9 L1852 996.4 L1863.4 999.6 L1883 998M1757.3 1043.7 L1757.3 1060 L1778.5 1060 L1780.1 1050.2 L1824.2 1050.2 L1825.9 1060 L1842.2 1060M1708.3 1030.7 L1709.9 1096 L1692 1097.6 L1690.3 1104.1 L1657.7 1104.8 L1657.7 1117.2 L1643 1118.8 L1639.7 1130.3M1667.5 1104.1 L1657.7 1104.8M1713.2 1104.1 L1745.8 1102.5 L1750.7 1091.1 L1778.5 1091.1 L1781.8 1117.2 L1807.9 1117.2 L1824.2 1084.5 L1830.8 1071.5 L1811.2 1068.2 L1817.7 1050.2M1193.9 1195.6 L1241.3 1194.9 L1247.8 1208.6 L1252.7 1225 L1272.3 1226.6 L1272.3 1240M1240.6 1180.9 L1314.7 1180.9 L1314.7 1171.1 L1329.4 1169.5 L1331.1 1159.7 L1337 1136.8 L1363.7 1136.1M1314.7 1180.9 L1314.1 1240M1581.9 1161.3 L1615.2 1161.3 L1626.6 1166.2 L1628.3 1208.6M1628.3 1172.7 L1675.6 1172.1 L1677.3 1180.9M1060 951.6 L1122.1 951.6 L1130.2 944.1 L1128.6 935.9 L1146.5 924.5 L1154.7 914.7 L1148.2 898.4M1466.6 984.9 L1466.6 1013.3M1422.5 984.9 L1466.6 984.9M1795.9 945.4 L1826.4 945.4 L1828.6 925.8M1874.3 949.7 L1874.3 1010.7 L1983.2 1010.7 L1983.2 980.2 L1926.6 980.2 L1924.4 995.5 L1907 995.5 L1907 960.6 L1896.1 959.8M1828.6 945.4 L1828.6 973.7 L1795.9 973.7 L1795.9 1017.2 L1830.8 1019.4 L1832.9 1034.7 L1856.9 1034.7 L1859.1 1060.8 L1887.4 1063 L1891.7 1034.7 L1902.6 1043.4 L1898.3 1069.5 L1904.8 1095.6 L1913.5 1120M1765.4 925.8 L1787.2 924.9 L1787.2 973.7 L1765.4 975.9 L1764.6 984.6M1983.2 1010.7 L2007.1 1012.9 L2009.3 982.4 L2002.8 965 L2000.6 947.6M1883 1012.9 L2000.6 1013.7 L2000.6 1034.7 L2013.7 1036.8 L2013.7 1078.2 L2035.4 1080.4 L2037.6 1120M2000.6 1034.7 L1998.4 1060.8 L1961.4 1063 L1959.2 1120M2100.7 988.9 L2096.4 999.8 L2083.3 1012.9 L2079 1030.3 L2074.6 1043.4 L2065.9 1060.8 L2057.2 1073.8 L2061.6 1086.9 L2048.5 1104.3 L2044.1 1120M1996.2 797.3 L1991.9 812.6 L2000.6 825.6 L2013.7 838.7 L2031.1 847.4M1907 808.2 L1954.9 807.3 L1954.9 827.8 L1935.3 830 L1928.7 845.2 L1913.5 838.7 L1909.1 821.3 L1907 808.2M1954.9 812.6 L1991.9 812.6M1972.3 777.7 L1972.3 810.4M1952.7 775.6 L1957 788.6 L2018 786.4 L2018 797.3 L2039.8 797.3 L2044.1 803.9 L2074.6 799.5 L2079 793 L2096.4 793M1987.5 673.2 L1987.5 773.4 L1952.7 775.6M1957 671 L1957 718.9 L1974.5 718.9 L1976.6 738.5 L2015.8 738.5 L2018 786.4M1998.4 671 L1998.4 690.6 L2020.2 690.6 L2020.2 671M2015.8 738.5 L2022.4 712.4 L2044.1 705.9 L2057.2 714.6 L2065.9 712.4M2061.6 751.6 L2061.6 773.4 L2074.6 782.1 L2076.8 793M2100.7 751.6 L2061.6 751.6M1987.5 597 L2000.6 599.2 L2004.9 616.6 L2013.7 629.7 L2018 647.1 L2035.4 647.1 L2033.3 616.6 L2061.6 614.4 L2074.6 621 L2105.1 616.6 L2105.1 588.3 L2131.2 586.1M2035.4 647.1 L2037.6 671M2052.8 686.3 L2074.6 690.6 L2074.6 668.9 L2105.1 666.7 L2105.1 616.6M2139.9 638.4 L2166.1 640.6M1743.7 644.9 L1752.4 660.2 L1765.4 668.9 L1774.2 690.6 L1782.9 703.7 L1774.2 725.5 L1791.6 742.9 L1800.3 769 L1813.3 795.1 L1826.4 812.6M2033.9 398.8 L2035.5 424.9 L2045.3 426.5 L2047 436.3 L2063.3 436.3 L2063.3 418.4 L2076.4 418.4 L2096 424.9 L2115.6 434.7 L2119.5 452.7 L2131.9 454.3 L2132.5 473.9 L2121.4 475.5 L2120.5 491.9 L2105.8 492.8 L2096 493.5 L2050.2 493.5 L2046.3 500 L2045.3 536 L2024.1 536 L2017.6 527.8M2096 493.5 L2096 549 L2078 549.7 L2079 565.3 L2096 566M2132.5 454.3 L2180.9 452.7 L2180.9 436.3 L2187.4 424.9 L2192.3 402.1M2247.8 390.6 L2247.8 436.3M2045.3 536 L2045.3 591.5 L2030.6 593.1 L2029 601.3 L2011 601.3 L2004.5 611.1 L2012.7 624.1 L2011 643.7 L2017.6 648.6M2045.3 549 L2078 549.7M2096 566 L2094.3 578.4 L2096 584.9 L2107.4 586.6 L2107.4 617.6 L2089.4 619.2 L2069.8 619.2 L2068.2 635.6 L2089.4 636.5 L2089.4 666.6 L2063.3 668.2 L2063.3 689.5 L2050.2 691.1 L2048.6 676.4 L2019.2 676.4 L2019.2 671.5 L1955.5 671.5M2109 549 L2112.3 568.6 L2143.3 569.3 L2143.3 527.8 L2118.8 527.8 L2118.2 549 L2109 549M2143.3 549 L2158 549 L2159.6 542.5 L2171.1 542.5M2143.3 569.3 L2144.3 591.5 L2132.5 593.1 L2131.9 617.6 L2128.6 636.5 L2089.4 636.5M2128.6 636.5 L2138.4 637.2 L2140 658.4 L2159.6 658.4M2140 647 L2159.6 647M2284.7 576.8 L2285.4 555.6 L2293.5 553.9 L2293.5 493.5 L2277.2 491.9 L2277.2 487M2293.5 553.9 L2316.4 552.3 L2316.4 534.3 L2337.6 532.7 L2338.3 509.2 L2363.8 509.2M2295.2 619.2 L2316.4 619.2 L2316.4 638.8 L2326.2 640.5 L2327.8 682.9 L2370.3 684.6M2316.4 619.2 L2337.6 618.3 L2339.3 611.1 L2362.1 610.4 L2363.8 606.2 L2375.2 607.8 L2376.8 617.6 L2403 617.6M2295.2 661.7 L2300.1 663.3 L2299.1 686.2 L2296.8 702.5 L2324.6 704.2 L2327.8 682.9M1955.5 671.5 L1957.2 715.6 L1971.9 717.2 L1973.5 736.8 L1993.1 736.8 L1993.1 760M1975.1 671.5 L1975.1 715.6M1998 671.5 L1998 691.1 L2019.2 691.1 L2019.2 676.4M1908.2 760 L1908.2 697.6 L1900 697.6M2050.2 691.1 L2053.5 696 L2051.9 702.5 L2076.4 703.2 L2076.4 714 L2040.4 714 L2030.6 705.8 L2020.8 704.2 L2020.8 718.8 L2012.7 727 L2033.9 730.3 L2063.3 728.6 L2063.3 738.4 L2078 740.1M2063.3 668.2 L2063.3 653.5 L2122.1 654.2 L2123.7 679.7 L2158 679.7M2123.7 679.7 L2125.3 699.3M1986.5 594.7 L1988.2 620.9 L1998 633.9 L2007.8 653.5 L2014.3 647M2537.9 855.8 L2537.9 826.4 L2630.4 826.4 L2689.2 826.4 L2693.5 834 L2696.8 836.2M2630.4 826.4 L2630.4 807.9 L2626 797 L2619.5 788.3 L2628.2 775.2 L2636.9 769.8 L2667.4 769.8 L2684.8 780.7 L2689.2 790.5 L2697.9 803.5 L2706.6 816.6 L2716.4 827.5M2706.6 773.1 L2719.7 784 L2728.4 777.4 L2739.3 773.1M2739.3 784 L2750.1 792.7 L2758.8 801.4 L2769.7 810.1 L2771.9 823.1 L2770.8 838.4M2689.2 847.1 L2707.7 847.1 L2708.8 868.9 L2710.9 890.6 L2706.6 903.7 L2700.1 912.4M2724 873.2 L2708.8 871M2537.9 855.8 L2547.7 849.3 L2560.7 853.6 L2573.8 838.4 L2584.7 836.2 L2589 829.7 L2599.9 826.4 L2608.6 834 L2616.2 840.6 L2618.4 849.3 L2630.4 853.6 L2639.1 849.3 L2645.6 840.6 L2639.1 829.7 L2640.2 826.4M2618.4 849.3 L2613 862.3 L2619.5 868.9 L2621.7 881.9 L2626 890.6 L2636.9 899.3M2537.9 855.8 L2523.7 853.6 L2521.5 864.5 L2510.6 875.4 L2506.3 888.5 L2510.6 899.3 L2521.5 892.8 L2523.7 884.1 L2532.4 886.3 L2536.8 877.6 L2543.3 871 L2554.2 879.8 L2560.7 877.6 L2571.6 886.3 L2578.1 899.3 L2584.7 903.7M2584.7 903.7 L2573.8 912.4 L2569.4 925.5 L2558.5 932 L2553.1 937.4 L2543.3 945.1 L2538.9 951.6 L2530.2 960.3 L2523.7 969 L2519.3 960.3 L2510.6 973.4 L2506.3 975.6 L2504.1 960.3 L2495.4 962.5 L2501.9 951.6 L2515 945.1 L2523.7 938.5 L2532.4 947.2 L2538.9 951.6M2584.7 903.7 L2586.8 895 L2597.7 895 L2608.6 888.5 L2615.1 897.2 L2626 890.6M2584.7 903.7 L2591.2 914.6 L2608.6 918.9 L2619.5 925.5 L2632.6 936.4 L2641.3 927.7 L2645.6 918.9 L2652.2 923.3 L2660.9 921.1 L2671.8 923.3M2553.1 937.4 L2560.7 942.9 L2569.4 953.8 L2578.1 962.5 L2571.6 969 L2567.2 977.7 L2567.2 984.3 L2573.8 990.8 L2576 999.5 L2573.8 1010.4M2619.5 925.5 L2616.2 940.7 L2606.4 945.1 L2602.1 953.8 L2610.8 962.5 L2619.5 966.8 L2634.7 969 L2647.8 964.7 L2656.5 969 L2669.6 977.7 L2680.5 986.4M2543.3 945.1 L2549.8 956 L2545.5 969 L2541.1 977.7 L2532.4 982.1 L2530.2 990.8 L2515 995.1 L2499.8 993 L2488.9 1006 L2482.3 1010.4M2549.8 1010.4 L2552 999.5 L2556.4 979.9 L2545.5 977.7M2473.6 1009.3 L2549.8 1010.4 L2573.8 1010.4 L2615.1 1009.3 L2632.6 1008.2 L2643.5 1010.4 L2691.4 1010.4 L2702.2 1010.4M2632.6 1008.2 L2630.4 1001.7 L2643.5 997.3 L2652.2 986.4 L2645.6 977.7 L2654.3 969M2475.8 921.1 L2484.5 945.1 L2475.8 956 L2471.4 969 L2475.8 977.7 L2473.6 990.8 L2480.2 997.3 L2473.6 1009.3M2493.2 1010.4 L2495.4 1040M2513.9 1010.4 L2513.9 1040M2554.2 1010.4 L2553.1 1040M2643.5 1010.4 L2639.1 1040M2667.4 1027.8 L2663 1040M2493.2 810.1 L2506.3 805.7 L2519.3 806.8 L2521.5 801.4 L2536.8 800.3 L2545.5 805.7 L2541.1 816.6 L2543.3 825.3M2492.1 760 L2493.2 810.1 L2493.2 831.9M2460.1 993.1 L2471.5 1009.4 L2468.2 1022.5 L2484.6 1029 L2494.4 1019.2 L2510.7 1022.5 L2514 1009.4 L2536.8 1009.4 L2553.2 1011 L2554.8 993.1 L2569.5 989.8 L2572.8 980M2536.8 1009.4 L2538.5 1029 L2530.3 1048.6 L2543.4 1050.2 L2546.6 1068.2 L2566.2 1069.8 L2569.5 1084.5M2553.2 1011 L2595.6 1009.4 L2598.9 1022.5 L2621.7 1020.8 L2634.8 1032.3 L2647.9 1029 L2644.6 1012.7 L2664.2 1011M2468.2 1022.5 L2461.7 1038.8 L2445.4 1045.3 L2429.1 1042.1 L2425.8 1029M2484.6 1029 L2481.3 1048.6 L2494.4 1055.1 L2492.7 1074.7 L2474.8 1078 L2461.7 1087.8 L2451.9 1092.7M2494.4 1055.1 L2514 1056.7 L2517.2 1071.4 L2530.3 1074.7 L2533.6 1091 L2549.9 1104.1 L2543.4 1117.2 L2559.7 1127M2514 1056.7 L2515.6 1038.8 L2530.3 1048.6M2569.5 1084.5 L2582.6 1087.8 L2595.6 1078 L2615.2 1084.5 L2621.7 1071.4 L2634.8 1074.7 L2638.1 1058.4 L2634.8 1032.3M2569.5 1084.5 L2572.8 1104.1 L2589.1 1117.2 L2582.6 1133.5 L2595.6 1143.3 L2589.1 1156.4M2615.2 1084.5 L2618.5 1104.1 L2631.5 1117.2 L2647.9 1113.9 L2657.7 1123.7M2451.9 1092.7 L2471.5 1104.1 L2478 1120.4 L2497.6 1123.7 L2510.7 1117.2 L2517.2 1127 L2510.7 1140 L2497.6 1136.8 L2491.1 1146.6 L2474.8 1149.8 L2460.1 1171.1M2510.7 1140 L2523.8 1149.8 L2530.3 1166.2 L2543.4 1162.9 L2549.9 1176 L2540.1 1189 L2530.3 1187.4M2474.8 1149.8 L2484.6 1162.9 L2481.3 1176 L2494.4 1182.5 L2512.3 1179.2M2448.6 1182.5 L2458.4 1195.6 L2466.6 1205.3M2443.7 1205.3 L2451.9 1215.1 L2455.2 1229.8M2466.6 1205.3 L2455.2 1215.1 L2451.9 1229.8M2416 1273.9 L2429.1 1275.6 L2435.6 1260.9M2419.3 1288.6 L2429.1 1303.3 L2445.4 1306.6 L2451.9 1293.5 L2466.6 1273.9M2373.5 1290.3 L2386.6 1293.5 L2396.4 1287 L2406.2 1275.6M2378.4 1306.6 L2393.1 1309.9 L2402.9 1322.9 L2422.5 1326.2 L2425.8 1339.3 L2448.6 1336M2396.4 1331.1 L2399.7 1349.1 L2389.9 1358.8 L2368.6 1352.3M2360.5 1383.3 L2367 1394.8 L2365.4 1400M2060 1012.7 L2113.9 1012.7 L2115.5 993.1 L2144.9 991.4M2185.7 1043.7 L2190.6 1032.3 L2203.7 1029 L2229.8 1030.6 L2231.5 1012.7 L2246.2 1011 L2247.8 1015.9M2252.7 1038.8 L2272.3 1035.5 L2288.6 1025.7 L2298.4 1009.4 L2301.7 1002.9M2277.2 1047 L2295.1 1055.1 L2308.2 1058.4 L2321.3 1064.9 L2331.1 1076.3M2262.5 1066.5 L2275.6 1074.7 L2288.6 1078 L2301.7 1091 L2318 1094.3M2301.7 1002.9 L2308.2 1019.2 L2318 1029 L2331.1 1025.7 L2344.1 1032.3 L2347.4 1045.3 L2360.5 1038.8 L2367 1020.8M2347.4 1045.3 L2353.9 1058.4 L2347.4 1073.1M2371.9 1094.3 L2353.9 1104.1 L2340.9 1110.6 L2321.3 1117.2 L2318 1127 L2303.3 1130.2M2285.3 1128.6 L2282.1 1110.6 L2288.6 1104.1 L2285.3 1097.6 L2301.7 1091M2371.9 1094.3 L2383.3 1084.5 L2399.7 1078 L2411.1 1078M2303.3 1146.6 L2321.3 1162.9 L2331.1 1176 L2347.4 1182.5 L2353.9 1184.1M2288.6 1148.2 L2295.1 1169.4 L2288.6 1189 L2308.2 1195.6 L2331.1 1202.1M2300 1213.5 L2308.2 1202.1 L2331.1 1202.1M2135.1 1209.3 L2133.5 1273.9 L2131.9 1339.3 L2133.5 1349.1M2092.7 1208.6 L2073.1 1210.2 L2073.1 1257.6 L2060 1257.6M2060 1313.1 L2091 1313.1 L2091 1339.3 L2079.6 1340.9 L2079.6 1352.3M2133.5 1339.3 L2167.8 1337.6 L2169.4 1313.1 L2211.9 1313.1M2167.8 1337.6 L2174.3 1352.3M2035.6 1100 L2032.3 1116.3 L2022.6 1132.7 L2019.3 1149 L2012.8 1165.3 L2009.5 1181.6 L2006.2 1198 L2007.9 1214.3 L2019.3 1230.6 L2022.6 1247 L2009.5 1256.8 L1999.7 1269.8 L1989.9 1282.9 L1986.6 1296 L1993.2 1297.6M1986.6 1309 L2034 1313.9 L2087.9 1313.9 L2091.1 1328.6 L2084.6 1341.7 L2081.3 1361.3M1875.6 1204.5 L2006.2 1206.1M1875.6 1204.5 L1875.6 1240.4M1874.9 1260 L1882.1 1276.4 L1891.9 1289.4 L1895.2 1304.1M2133.6 1209.4 L2132 1276.4 L2133.6 1348.2M2133.6 1312.3 L2166.3 1312.3 L2167.9 1328.6 L2185.8 1330.2 L2247.9 1328.6 L2247.9 1341.7M1875.6 1134.3 L1882.1 1152.3 L1890.3 1171.9 L1890.3 1194.7 L1875.6 1204.5M1890.3 1181.6 L1924.6 1183.3 L1924.6 1204.5M1934.4 1204.5 L1934.4 1260 L1954 1261.7 L1954 1253.5 L1924.6 1251.9 L1926.2 1230.6 L1929.5 1220.8M1759.6 1142.5 L1771.1 1145.7 L1793.9 1132.7 L1797.2 1122.9 L1810.3 1121.2 L1810.3 1113.1 L1836.4 1114.7 L1836.4 1122.9 L1859.3 1124.5 L1859.3 1106.5 L1880.5 1109.8 L1882.1 1132.7 L1875.6 1134.3M1891.9 1100 L1891.9 1109.8 L1927.8 1111.4 L1934.4 1122.9 L1960.5 1124.5 L1958.9 1149 L1983.4 1145.7 L1989.9 1139.2 L1983.4 1119.6 L1996.4 1116.3 L1998.1 1100M1927.8 1183.3 L1927.8 1227.4 L1957.2 1225.7 L1989.9 1230.6 L1993.2 1253.5 L2019.3 1253.5M1967 1264.9 L1970.3 1296 L1983.4 1299.2M1901.7 1294.3 L1934.4 1282.9 L1927.8 1276.4 L1934.4 1263.3 L1967 1264.9M2035.6 1313.9 L2035.6 1333.5 L2042.1 1351.5 L2035.6 1358 L2009.5 1328.6M1780.9 1194.7 L1795.6 1237.2 L1787.4 1243.7M1780.9 1354.7 L1793.9 1348.2 L1795.6 1335.1 L1813.5 1341.7 L1826.6 1348.2 L1846.2 1343.3M1795.6 1335.1 L1790.7 1325.3 L1771.1 1315.6 L1761.3 1328.6 L1758 1330.2M1771.1 1315.6 L1777.6 1292.7 L1793.9 1287.8 L1800.5 1284.5M1689.4 1289.4 L1700.9 1318.8 L1728.6 1325.3 L1751.5 1309 L1758 1299.2 L1741.7 1269.8M1700.9 1318.8 L1692.7 1335.1 L1682.9 1358 L1702.5 1377.6 L1709 1371.1 L1728.6 1380.9M1751.5 1309 L1758 1328.6M1728.6 1325.3 L1735.1 1341.7 L1709 1371.1M1682.9 1358 L1669.8 1377.6M2071.5 1180 L2071.5 1209.4M2035.6 1207.8 L2038.9 1191.4 L2055.2 1189.8 L2069.9 1189.8M1653.5 1109.8 L1653.5 1142.5 L1669.8 1144.1 L1676.4 1158.8 L1696 1160.4M1604.5 1119.6 L1640.4 1129.4 L1653.5 1119.6M1761.3 1142.5 L1758 1162.1 L1771.1 1165.3M1875.6 1134.3 L1869.1 1158.8 L1878.8 1184.9 L1875.6 1204.5M1805.4 1425 L1813.5 1403.7 L1826.6 1393.9 L1846.2 1387.4 L1847.8 1348.2M1702.5 1442.9 L1748.2 1439.7M1699.2 1490.3 L1748.2 1459.3M2364.1 1388 L2403.3 1405.4 L2405.5 1394.5 L2427.2 1392.3 L2431.6 1398.9 L2444.7 1401 L2455.6 1385.8M2390.2 1418.5 L2403.3 1405.4M2392.4 1440.2 L2422.9 1440.2 L2420.7 1505.6 L2444.7 1505.6 L2444.7 1531.7 L2457.7 1546.9 L2457.7 1560 L2475.1 1560 L2477.3 1588.3 L2457.7 1592.7M2420.7 1466.4 L2409.8 1466.4 L2392.4 1479.4M2444.7 1520.8 L2466.4 1518.6 L2468.6 1505.6 L2459.9 1496.8 L2462.1 1490.3 L2475.1 1488.1 L2477.3 1479.4 L2496.9 1479.4M2366.3 1379.3 L2383.7 1361.9 L2414.2 1357.5 L2422.9 1327 L2431.6 1344.4 L2451.2 1327M2839.7 608.2 L2834.8 622.9 L2839.7 642.5M2905 482.5 L2921.3 482.5 L2924.6 538 L2926.2 596.8 L2934.4 622.9 L2937.6 632.7M2944.2 456.3 L2950.7 489 L2963.8 505.3 L2973.6 524.9 L2963.8 538 L2967 554.3 L2989.9 547.8 L3009.5 541.2 L3016 547.8M2839.7 642.5 L2869.1 644.1 L2908.2 644.1 L2934.4 634.3M2875.6 644.1 L2877.2 603.3 L2885.4 593.5 L2901.7 580.4 L2924.6 595.1M2808.6 689.8 L2872.3 686.6 L2888.6 688.2 L2888.6 730.7M2872.3 686.6 L2869.1 665.3 L2865.8 649 L2869.1 644.1M2813.5 686.6 L2839.7 642.5M2810.3 689.8 L2815.2 727.4 L2807 753.5M2722.1 688.2 L2736.8 696.4 L2761.3 681.7 L2766.2 676.8M2722.1 688.2 L2722.1 730.7 L2736.8 733.9 L2740 743.7 L2751.5 733.9 L2754.7 727.4 L2741.7 714.3 L2736.8 696.4M2707.4 765 L2722.1 782.9 L2731.9 773.1 L2741.7 776.4 L2748.2 786.2 L2761.3 799.3 L2777.6 782.9 L2787.4 779.7M2707.4 765 L2696 776.4 L2689.4 786.2 L2682.9 799.3 L2689.4 812.3 L2682.9 825.4M2619.2 796 L2630.6 825.4 L2682.9 825.4M2656.8 769.9 L2637.2 773.1 L2619.2 796M2539.2 860 L2539.2 828.6 L2591.4 827 L2598 845 L2617.6 841.7 L2630.6 825.4M2648.6 670.2 L2647 662.1 L2656.8 657.2 L2656.1 668.6M2885.4 500.4 L2905 498.8 L2906.6 482.5M631.6 1052.3 L683.9 1052.3 L786.2 1052.3 L888.5 1052.3M683.9 1052.3 L675.1 1041.4 L666.4 1026.1 L653.4 1013.1M786.2 1052.3 L784 1030.5 L775.3 1013.1 L768.8 1000M997.4 1034.8 L997.4 1235.1M997.4 1034.8 L1027.9 1019.6 L1030 1000M962.6 1137.2 L982.1 1139.3 L997.4 1134.1M945.1 1174.2 L940.8 1182.9 L871.1 1182.9 L812.3 1182.9M871.1 1182.9 L873.3 1226.4M997.4 1150.2 L1049.6 1150.2 L1058.4 1148.1 L1080.1 1150.2M997.4 1233 L1049.6 1232.1M1193.3 1193.8 L1241.2 1193.8 L1250 1217.7 L1254.3 1226.4 L1271.7 1227.3 L1271.7 1272.2M1240.4 1180.7 L1313.1 1180.7 L1313.1 1261.3M1313.1 1180.7 L1328.3 1161.1 L1337 1137.2 L1363.2 1132.8M1193.3 1237.3 L1193.3 1296.1M2490.7 773.1 L2492.3 740.4 L2516.8 735.5M2569.1 743.7 L2570.1 769.8M2492.3 802.5 L2508.7 809 L2521.7 802.5 L2534.8 799.2 L2543 817.2M2165.8 985.4 L2188.6 983.7 L2231.1 982.1 L2253.9 980.5 L2267 988.6M2185.3 980.5 L2183.7 1001.7 L2201.7 1005 L2231.1 1003.3 L2232.7 1020M2231.1 982.1 L2231.1 1003.3M2472.8 952.7 L2482.6 959.3 L2495.6 952.7 L2515.2 956 L2534.8 946.2 L2544.6 933.1 L2557.7 929.9M2505.4 893.9 L2521.7 887.4 L2534.8 890.7 L2547.9 880.9 L2557.7 884.1 L2574 871.1 L2580.5 858M2482.6 867.8 L2495.6 861.3 L2515.2 848.2 L2521.7 835.1 L2538.1 828.6 L2543 825.3M2002.5 942.9 L2004.1 959.3 L2012.3 975.6 L2009 991.9 L1999.2 1005M2087.4 969.1 L2100.4 995.2 L2097.2 1008.2 L2084.1 1020M1960 887.4 L1987.8 887.4M1960 854.7 L1973.1 861.3 L1987.8 858M2067.8 733.9 L2059.6 753.5 L2061.2 782.9 L2067.8 796 L2054.7 802.5 L2046.5 796 L2043.3 776.4 L2018.8 778 L2020.4 760 L2040 756.8 L2041.6 743.7 L2067.8 743.7M2093.9 796 L2084.1 792.7 L2067.8 796M1992.7 792.7 L1999.2 822.1 L2012.3 835.1 L2004.1 836.8M1960 792.7 L1992.7 792.7 L1991 776.4 L1973.1 776.4 L1971.4 733.9M1960 698 L1978 698 L1979.6 733.9 L1971.4 733.9M1999.2 671.9 L2000.8 698 L2020.4 698 L2018.8 724.1 L2038.4 724.1 L2040 743.7M1960 670.2 L1999.2 670.2M2009 622.9 L2012.3 639.2 L2025.3 645.7 L2023.7 665.3 L2048.2 678.4 L2053.1 694.7 L2074.3 696.3 L2075.9 715.9M2368.2 920.1 L2361.7 939.7 L2374.8 946.2 L2384.6 939.7 L2397.6 949.5 L2417.2 939.7M2384.6 987 L2399.3 991.9M2325.8 956 L2345.4 952.7 L2361.7 939.7M2458.1 991.9 L2469.5 978.8 L2482.6 975.6 L2495.6 985.4 L2515.2 982.1 L2525 991.9 L2547.9 988.6M2469.5 978.8 L2472.8 952.7" fill="none" stroke="#9a978b" stroke-width="1.9" stroke-linejoin="round"/>
<polygon points="747.6,232.7 829.9,232.7 829.9,352.5 741.7,352.5 741.7,306.1 746.6,304.5 745.9,257.2 747.6,255.5" fill="#579fc5" stroke="#7d8f93" stroke-width="1.8" stroke-linejoin="round"/>
<polygon points="738.4,423.7 743.3,419.5 749.9,417.2 759.7,402.5 764.6,397.6 774.4,396 776,398.6 791.7,396 792.3,404.1 798.8,405.8 798.8,412.3 802.8,413.9 803.7,434.2 742.7,434.2 741.7,427" fill="#45509f" stroke="#6f7390" stroke-width="1.8" stroke-linejoin="round"/>
<polygon points="874,232.7 874,304.5 883.8,317.6 890.3,329 890.3,338.8 901.7,350.2 909.9,358.4 924.6,374.7 932.8,386.2 942.6,391.1 952.3,394.3 950.7,409 945.8,417.2 944.2,425.3 947.4,435.1 942.6,448.2 940.9,461.3 932.8,469.4 937.7,477.6 935.4,487.4 933.4,500.5 932.8,510.3 926.2,515.2 916.4,516.8 909.9,526.6 908.3,536.4 913.2,546.2 919.7,556 924.6,565.8 934.4,569.1 945.8,574 958.9,578.8 971.9,588.6 985,600.1 998.1,606.6 1012.8,608.2 1007.9,620 1003,623.3 1001.3,634.7 1004.6,642.9 1001.3,649.4 1012.8,652.7 1014.4,669 1027.5,669 1034,662.5 1040.5,659.8 1045.4,669 1053.6,670.6 1065,673.9 1073.2,664.1 1078.1,672.3 1079.7,688.6 1083,698.4 1084.6,708.2 1083,721.2 1087.9,727.8 1091.2,732.7 1099.3,735.9 1100.9,745.7 1109.1,749 1146.7,749.7 1151.6,762.1 1163,763.7 1167.9,762.1 1177.7,763.7 1182.6,758.8 1185.9,765.3 1192.4,771.9 1193.4,749 1260,748.8 1485.3,748.8 1485.3,723.3 1483.7,700.4 1482.1,684.1 1478.8,658 1478.2,627.6 1596.4,627 1669.9,627 1681.3,630.2 1682.9,636.7 1682.9,662.9 1722.1,662.9 1723.8,666.1 1740.1,666.1 1740.1,643.3 1749.9,644.9 1749.9,623.7 1764.6,622.1 1766.2,612.3 1792.3,610.6 1813.6,610.6 1813.6,596.6 1923,595.9 1923,560 1923,595.8 1923,553.4 1944.2,552.7 1944.9,541.3 1952.4,539.7 1953,534.8 1965.4,534.8 1967.1,527.6 1989,526.6 2017,526.6 2017.7,476 2030.8,474.3 2030.8,435.8 2018.4,435.1 2017.7,424.4 1989.9,423.7 1989.9,386.2 1970.3,389.4 1965.4,386.2 1975.2,378 1988.3,366.6 2004.6,353.5 2021,337.2 2040.6,324.1 2056.9,312.7 2076.5,301.2 2050.4,294.7 2027.5,293.1 2017.7,286.5 2004.6,291.4 1989.9,296.3 1975.2,286.5 1958.9,278.4 1942.6,270.2 1929.5,263.7 1913.2,258.8 1900.1,263.7 1880.5,260.4 1857.7,253.9 1847.9,247.4 1843,222.9 1838.1,208.2 1825.7,207.2 1825.7,232.7" fill="#579fc5" stroke="#7d8f93" stroke-width="1.8" stroke-linejoin="round"/>
<polygon points="1230,232.7 1229.3,249 1224.1,253.9 1223.4,275.1 1221.8,301.2 1202.2,306.1 1200.6,319.2 1181,320.8 1158.1,322.5 1153.2,333.9 1149.9,342.1 1115.6,345.3 1114,356.8 1118.9,363.3 1118.9,379.6 1109.1,369.8 1099.3,368.2 1083,369.8 1076.5,374.7 1083,386.2 1089.5,396 1094.4,404.1 1102.6,410.7 1100.9,422.1 1135.2,421.4 1177.7,419.5 1177.7,387.8 1213.6,386.8 1214.3,361.7 1208.7,360 1208.7,350.2 1226.7,348.6 1226.7,330.6 1246.3,330.6 1260,325.7 1266.5,325.7 1267.2,291.4 1269.8,281.6 1271.4,270.2 1274.7,267 1276.3,232.7" fill="#fdfdfd" stroke="#9a978b" stroke-width="1.8" stroke-linejoin="round"/>
<polygon points="1102.6,523.3 1118.9,522.7 1120.5,526.6 1135.2,528.2 1138.5,539.7 1143.4,547.8 1146.7,557.6 1147.7,601.7 1133.6,605 1122.2,612.2 1112.4,607.6 1102.6,606.6" fill="#fdfdfd" stroke="#9a978b" stroke-width="1.8" stroke-linejoin="round"/>
<polygon points="1826.6,451.5 1867.5,447.6 1887.7,446.6 1888.7,462.9 1900.1,462.9 1901.8,473.7 1919.7,472.7 1919.1,458 1927.9,459.6 1932.8,464.5 1939.3,471.1 1936,480.9 1932.8,487.4 1960.5,487.4 1962.2,503.7 1958.9,513.5 1936,521.7 1932.8,526.6 1924.6,528.2 1916.5,533.1 1909.9,531.5 1900.1,528.2 1883.8,529.9 1882.2,525 1888.7,518.4 1880.5,513.5 1877.3,503.7 1870.7,493.9 1865.8,484.1 1859.3,479.2 1844.6,477.6 1839.7,476 1826.6,474.3" fill="#fdfdfd" stroke="#9a978b" stroke-width="1.8" stroke-linejoin="round"/>
<polygon points="1100.9,422.1 1087.9,423.7 1084.6,431.9 1073.2,443.3 1060.1,448.2 1053.6,446.6 1048.7,453.1 1034,454.7 1027.5,461.3 1030.7,471.1 1038.9,474.3 1040.5,487.4 1047.1,495.6 1052,505.4 1060.1,513.5 1073.2,518.4 1086.3,518.4 1094.4,523.3 1101.9,533.1 1101.9,500.5 1156.5,499.8 1159.7,487.4 1167.9,480.9 1181,471.1 1194,461.3 1203.8,459.6 1212,469.4 1230,469.4 1239.8,461.3 1241.4,451.5 1260,441.7 1260,378.6 1327.6,378 1328.6,361.7 1338.4,361.7 1340,356.8 1361.2,356.8 1362.9,363.3 1367.8,371.5 1375.9,373.1 1377.6,378 1390.6,377.3 1400.4,374.7 1407,366.6 1407,355.1 1402.1,348.6 1408.6,343.7 1419.4,342.1 1419.4,232.7 1276.3,232.7 1274.7,267 1271.4,270.2 1269.8,281.6 1267.2,291.4 1266.5,325.7 1260,326.7 1260,325.7 1246.3,330.6 1226.7,330.6 1226.7,348.6 1208.7,350.2 1208.7,360 1214.3,361.7 1213.6,386.8 1177.7,387.8 1177.7,419.5 1135.2,421.4" fill="#45509f" stroke="#6f7390" stroke-width="1.8" stroke-linejoin="round"/>
<polygon points="1510.8,372.1 1563.7,371.5 1563.7,360.7 1570.3,359.4 1570.9,347.6 1599.7,347.6 1599.7,369.8 1601.9,371.5 1601.9,393.3 1578.4,393.3 1579.4,399.2 1575.2,405.1 1567,408.4 1559.8,410.7 1558.8,415.6 1555.6,410.7 1547.4,409.7 1546.7,394.3 1527.8,393.3 1526.2,387.8 1510.8,387.1" fill="#242e4c" stroke="#5a5e68" stroke-width="1.8" stroke-linejoin="round"/>
<polygon points="1807,265.3 1821.1,265.3 1821.1,277.4 1857.7,277.4 1858.3,329 1860.9,342.1 1874,337.2 1877.3,345.3 1886.4,350.2 1887.1,367.2 1918.1,367.2 1918.7,409 1955,409.7 1955,430.2 1945.8,436.8 1936,444.9 1929.5,453.1 1927.9,459.6 1919.1,458 1919.7,472.7 1901.8,473.7 1900.1,462.9 1888.7,462.9 1887.7,446.6 1867.5,447.6 1826.6,451.5 1826,474.3 1821.1,475 1821.1,489 1784.2,489.7 1782.6,476 1776.7,473.7 1775,430.2 1826,428.6 1825,382.9 1823.4,358.4 1808.7,357.7" fill="#242e4c" stroke="#5a5e68" stroke-width="1.8" stroke-linejoin="round"/>
<polygon points="1923,553.4 1944.2,552.7 1944.9,541.3 1952.4,539.7 1953,534.8 1965.4,534.8 1967.1,527.6 1988.3,527.6 1989,551.1 1986.7,554.4 1993.2,562.5 1999.7,574 1981.8,574.9 1981.8,595.9 1985.7,596.6 1985.7,622.7 1967.1,622.1 1965.4,613.9 1944.2,613.9 1943.6,595.9 1923,595.9" fill="#45509f" stroke="#6f7390" stroke-width="1.8" stroke-linejoin="round"/>
<polygon points="1065,742.5 1073.2,737.6 1086.3,731 1087.9,727.8 1091.2,732.7 1099.3,735.9 1100.9,745.7 1109.1,749 1146.7,749.7 1151.6,762.1 1163,763.7 1167.9,762.1 1177.7,763.7 1182.6,758.8 1185.9,765.3 1192.4,771.9 1191.4,896 1146.7,896.6 1149.9,904.1 1154.8,913.9 1149.9,916.5 1086.3,917.2 1086.3,918.8 1066,918.8 1066,897.6 1087.9,896.6 1089.5,842.1 1092.8,829 1092.8,820.9 1109.8,820.2 1109.8,815 1097.7,814.3 1094.4,802.9 1089.5,793.1 1084.6,783.3 1081.4,773.5 1076.5,763.7 1073.2,753.9 1068.3,747.4" fill="#45509f" stroke="#6f7390" stroke-width="1.8" stroke-linejoin="round"/>
<polygon points="650.2,913.9 661.7,904.1 674.7,899.2 687.8,899.2 697.6,904.1 705.8,902.5 710.7,909 715.6,917.2 725.4,925.4 730.3,938.4 723.7,943.3 713.9,953.1 707.4,961.3 691.1,974.4 674.7,979.3 661.7,992.3 653.5,1000.5 655.1,1008.6 663.3,1011.9 668.2,1016.8 667.6,1023.3 660,1026.6 648.6,1023.3 637.2,1011.9 629,1002.1 620.9,992.3 624.1,987.4 637.2,985.8 637.2,977.6 648.6,966.2 651.9,959.7 671.5,949.9 678,946.6 668.2,938.4 660,927" fill="#579fc5" stroke="#7d8f93" stroke-width="1.8" stroke-linejoin="round"/>
<polyline points="793.3,352.5 793.3,314.3 805.4,309.4 806.4,298 829.9,298" fill="none" stroke="#80908c" stroke-width="1.8" stroke-linejoin="round"/>
<polyline points="963.8,232.7 971.9,245.7 981.7,258.8 994.8,275.1 1004.6,288.2 1014.4,301.2 1017.7,320.8 1034,327.4 1053.6,333.9 1056.9,353.5 1068.3,363.3 1069.9,373.1 1076.5,374.7" fill="none" stroke="#80908c" stroke-width="1.8" stroke-linejoin="round"/>
<polyline points="1076.5,389.4 1060.1,396 1047.1,405.8 1034,412.3 1030.7,418.8 1001.3,422.1 999.7,441.7 985,444.9 971.9,454.7 958.9,461.3 950.7,469.4" fill="none" stroke="#80908c" stroke-width="1.8" stroke-linejoin="round"/>
<polyline points="971.9,454.7 978.5,471.1 988.3,484.1 991.5,500.5 1001.3,510.3 1007.9,513.5 1017.7,536.4 1020.9,539.7 1014.4,549.5 1012.8,608.2" fill="none" stroke="#80908c" stroke-width="1.8" stroke-linejoin="round"/>
<polyline points="1020.9,539.7 1027.5,533.1 1040.5,531.5 1053.6,528.2 1083,526.6 1086.3,518.4" fill="none" stroke="#80908c" stroke-width="1.8" stroke-linejoin="round"/>
<polyline points="1148.3,557.6 1154.8,572.3 1167.9,565.8 1181,569.1 1194,559.3 1213.6,552.7 1260,552.7" fill="none" stroke="#80908c" stroke-width="1.8" stroke-linejoin="round"/>
<polyline points="1147.7,601.7 1158.1,600.1 1167.9,620" fill="none" stroke="#80908c" stroke-width="1.8" stroke-linejoin="round"/>
<polyline points="1419.4,346 1464.1,346 1464.1,324.1 1483.7,323.5 1485.3,314.3 1495.1,312.7 1578.4,312.7 1596.4,312.7 1595.7,265.3 1591.5,265.3 1596.4,232.7" fill="none" stroke="#80908c" stroke-width="1.8" stroke-linejoin="round"/>
<polyline points="1573.5,346 1575.2,312.7" fill="none" stroke="#80908c" stroke-width="1.8" stroke-linejoin="round"/>
<polyline points="1591.5,265.3 1628.4,265.3 1628.4,276.7 1612.7,277.7 1614.4,311 1635.6,312.7 1638.8,329 1674.8,330 1674.8,324.8 1696,324.8 1697.6,351.9 1709.1,352.8 1710.7,394.3 1753.2,395.3" fill="none" stroke="#80908c" stroke-width="1.8" stroke-linejoin="round"/>
<polyline points="1599.7,347.6 1628.4,347.6 1630.7,394.3 1674.8,394.3 1674.8,330" fill="none" stroke="#80908c" stroke-width="1.8" stroke-linejoin="round"/>
<polyline points="1648.6,394.3 1648.6,438.4" fill="none" stroke="#80908c" stroke-width="1.8" stroke-linejoin="round"/>
<polyline points="1700.9,324.1 1699.9,288.8 1763,289.8 1764.6,309.4 1769.5,317.6 1795.6,317.6 1798.9,307.8 1807,304.5" fill="none" stroke="#80908c" stroke-width="1.8" stroke-linejoin="round"/>
<polyline points="1749.9,325.7 1748.3,335.5 1807,336.5" fill="none" stroke="#80908c" stroke-width="1.8" stroke-linejoin="round"/>
<polyline points="1749.9,351.9 1749.9,358.4 1777.7,359.1 1779.3,394.3" fill="none" stroke="#80908c" stroke-width="1.8" stroke-linejoin="round"/>
<polyline points="1857.7,253.9 1858.3,277.4" fill="none" stroke="#80908c" stroke-width="1.8" stroke-linejoin="round"/>
<polyline points="1407,366.6 1395.5,381.3 1397.2,389.4 1420,392.7 1420,441.7 1380.8,427 1375.9,498.8 1330.2,500.5 1330.2,620" fill="none" stroke="#80908c" stroke-width="1.8" stroke-linejoin="round"/>
<polyline points="1420,440 1469,438.4 1469,417.2 1491.9,417.2 1493.5,423.1 1514.1,423.1 1514.1,471.1 1588.2,470.4 1581.7,461.3 1589.9,451.5 1583.3,440 1731.9,440 1761.3,441 1759.7,428.6 1753.2,395.3" fill="none" stroke="#80908c" stroke-width="1.8" stroke-linejoin="round"/>
<polyline points="1420,500.5 1375.9,499.8" fill="none" stroke="#80908c" stroke-width="1.8" stroke-linejoin="round"/>
<polyline points="1420,441.7 1420,620" fill="none" stroke="#80908c" stroke-width="1.8" stroke-linejoin="round"/>
<polyline points="1514.1,471.1 1513.1,529.9 1531.1,526.6 1550.7,516.8 1573.5,515.2 1586.6,507 1663.3,507 1665,552.7 1679.7,554.4 1681.3,572.3 1697.6,574 1691.1,596.8 1689.5,620" fill="none" stroke="#80908c" stroke-width="1.8" stroke-linejoin="round"/>
<polyline points="1731.9,440 1731.9,490.7 1696,490.7 1696,525 1665,525" fill="none" stroke="#80908c" stroke-width="1.8" stroke-linejoin="round"/>
<polyline points="1513.1,529.9 1511.5,583.7 1469,585.4 1467.4,620" fill="none" stroke="#80908c" stroke-width="1.8" stroke-linejoin="round"/>
<polyline points="1552.3,518.4 1552.3,552.7 1586.6,552.7 1596.4,591.9 1594.8,620" fill="none" stroke="#80908c" stroke-width="1.8" stroke-linejoin="round"/>
<polyline points="1784.2,489.7 1776,487.4 1766.2,484.1 1766.2,552.7 1784.2,554.4 1784.2,596.8 1736.8,596.8 1735.2,575.6 1697.6,574" fill="none" stroke="#80908c" stroke-width="1.8" stroke-linejoin="round"/>
<polyline points="1784.2,596.8 1794,596.8 1794,620" fill="none" stroke="#80908c" stroke-width="1.8" stroke-linejoin="round"/>
<polyline points="1989,423.7 1955.6,425.3 1955,430.2" fill="none" stroke="#80908c" stroke-width="1.8" stroke-linejoin="round"/>
<polyline points="1921.4,526.6 1923,553.4" fill="none" stroke="#80908c" stroke-width="1.8" stroke-linejoin="round"/>
<polyline points="1281.2,560 1282.2,594.3 1328.6,595.3 1327,749.4" fill="none" stroke="#80908c" stroke-width="1.8" stroke-linejoin="round"/>
<polyline points="1260,595.3 1282.2,594.3" fill="none" stroke="#80908c" stroke-width="1.8" stroke-linejoin="round"/>
<polyline points="1260,662.9 1327,662.9" fill="none" stroke="#80908c" stroke-width="1.8" stroke-linejoin="round"/>
<polyline points="1331.9,560 1330.2,595.3" fill="none" stroke="#80908c" stroke-width="1.8" stroke-linejoin="round"/>
<polyline points="1420,560 1420,627 1393.9,651.4 1393.9,713.5 1420,715.1 1420,748.8" fill="none" stroke="#80908c" stroke-width="1.8" stroke-linejoin="round"/>
<polyline points="1420,627 1478.2,627.6" fill="none" stroke="#80908c" stroke-width="1.8" stroke-linejoin="round"/>
<polyline points="1318.8,724.9 1393.9,713.5" fill="none" stroke="#80908c" stroke-width="1.8" stroke-linejoin="round"/>
<polyline points="1469,560 1469,586.1 1511.5,584.5 1513.1,560" fill="none" stroke="#80908c" stroke-width="1.8" stroke-linejoin="round"/>
<polyline points="1469,586.1 1469,627" fill="none" stroke="#80908c" stroke-width="1.8" stroke-linejoin="round"/>
<polyline points="1589.9,560 1593.1,582.9 1596.4,627" fill="none" stroke="#80908c" stroke-width="1.8" stroke-linejoin="round"/>
<polyline points="1697.6,560 1697.6,576.3 1689.5,595.9 1687.8,627" fill="none" stroke="#80908c" stroke-width="1.8" stroke-linejoin="round"/>
<polyline points="1735.2,574.7 1735.2,595.9 1792.3,596.6" fill="none" stroke="#80908c" stroke-width="1.8" stroke-linejoin="round"/>
<polyline points="1697.6,576.3 1735.2,574.7 1784.2,574.7 1784.2,560" fill="none" stroke="#80908c" stroke-width="1.8" stroke-linejoin="round"/>
<polyline points="1679.7,560 1681.3,571.4 1697.6,573.1" fill="none" stroke="#80908c" stroke-width="1.8" stroke-linejoin="round"/>
<polygon points="1362.1,860.8 1420.2,860.8 1420.2,896.7 1381.7,896.7 1381.7,888.6 1365.4,887 1362.1,878.8" fill="#45509f" stroke="#6f7390" stroke-width="1.8" stroke-linejoin="round"/>
<polygon points="1323.1,749.5 1441.6,749.5 1441.6,778.7 1415.4,778.7 1414.6,807 1374.1,807 1371.9,796.1 1347.9,795.2 1337,770" fill="#45509f" stroke="#6f7390" stroke-width="1.8" stroke-linejoin="round"/>
<polygon points="1193.9,933.3 1229.8,933.3 1231.5,935.9 1242.9,934.3 1249.4,937.6 1259.2,929.4 1264.1,937.6 1264.8,957.2 1279.5,957.8 1279.5,931 1286.3,927.8 1286.3,903.3 1327.8,901.6 1331.1,900 1340.9,909.8 1349,918 1350.7,924.5 1358.8,931 1365.4,929.4 1368.6,926.1 1371.9,929.4 1375.2,931 1376.1,913.1 1381.7,896.7 1420.2,896.7 1420.2,898.4 1460.1,896.7 1460.1,867.4 1494.4,866.7 1497.6,864.7 1512.3,864.7 1512.3,984.3 1422.5,984.9 1422.5,1029 1402.9,1029 1406.2,1037.2 1407.8,1048.6 1414.4,1051.9 1424.2,1051.9 1429.1,1061.7 1435.6,1071.5 1439.8,1073.1 1439.8,1081.3 1429.1,1081.3 1419.3,1089.4 1417.6,1099.2 1414.4,1109 1407.8,1109.7 1402.9,1117.2 1381.7,1118.8 1381.7,1131.9 1363.7,1131.9 1363.7,1096 1324.5,1095.3 1320.3,1096 1320.3,1048.6 1314.7,1042.7 1292.5,1040.5 1291.9,1029 1258.6,1029 1258.6,1040.5 1271.6,1040.5 1273.9,1078 1278.8,1087.8 1283.7,1102.5 1277.2,1118.8 1256,1119.8 1223.3,1120.5 1193.9,1118.8 1193.3,1119.6 1193.3,1237.2 1130.2,1236.5 1128.6,1233.3 1049.6,1232.3 1050.2,1193.1 1078,1193.1 1081.3,1181.6 1096,1176.7 1092.7,1168.6 1086.2,1155.5 1082.9,1144.1 1073.1,1140.8 1072.4,1135.9 1078,1129.4 1087.8,1126.1 1099.2,1127.8 1109,1132.7 1115.6,1134.3 1115.6,1100 1116.2,983.3 1193.9,984.3" fill="#579fc5" stroke="#7d8f93" stroke-width="1.8" stroke-linejoin="round"/>
<polygon points="1466.6,1013.3 1529.6,1013.3 1530.3,1032.3 1530.9,1062.3 1505.8,1063.3 1505.1,1109.7 1466.6,1109.7" fill="#d5eac4" stroke="#a9ad98" stroke-width="1.8" stroke-linejoin="round"/>
<polygon points="1530.3,1013.3 1603.1,1012.7 1603.1,1115.6 1604.8,1130.3 1600.5,1141.7 1600.5,1159.7 1582.6,1160.3 1581.9,1135.2 1561.3,1134.2 1561.3,1110.7 1530.3,1110.7" fill="#579fc5" stroke="#7d8f93" stroke-width="1.8" stroke-linejoin="round"/>
<polygon points="1381.7,1146.6 1386.6,1149.9 1399.7,1151.5 1416,1149.9 1417.6,1146.6 1429.1,1146.6 1430,1159.7 1435.6,1161.3 1437.2,1169.5 1447,1171.1 1448.6,1174.4 1466.6,1174.4 1466.6,1110.7 1538.5,1111.3 1537.5,1133.5 1533.6,1135.2 1533.6,1208.8 1581.9,1208.8 1645.7,1208.8 1645.7,1232.3 1670.8,1232.3 1670.8,1209.4 1679,1181.6 1696.9,1181 1696.9,1160.4 1709,1155.5 1722.1,1160.4 1735.1,1163.7 1743.3,1157.2 1744.3,1181.6 1700.2,1182.6 1699.2,1198 1694.3,1214.3 1692.7,1230.6 1697.6,1240.4 1712.3,1251.9 1728.6,1250.2 1740,1247 1748.2,1256.8 1761.3,1251.9 1771.1,1247 1787.4,1243.7 1810.3,1242.1 1812.9,1253.5 1813.5,1263.3 1818.4,1276.4 1810.3,1282.9 1800.5,1284.5 1793.9,1273.1 1787.4,1261.7 1780.9,1261.7 1767.8,1266.6 1753.1,1269.8 1746.6,1264.9 1735.1,1269.8 1709,1278 1689.4,1289.4 1696,1310.7 1691.1,1309 1676.4,1313.9 1646.3,1315.6 1651.9,1317.2 1651.9,1341.7 1666.6,1341.7 1669.8,1364.5 1676.4,1367.8 1669.8,1377.6 1661.7,1384.1 1660,1436.4 1692.4,1435.9 1696.7,1462 1703.3,1466.4 1696.7,1479.4 1698.9,1492.5 1725,1493.4 1720.7,1509.9 1718.5,1542.6 1694.6,1542.6 1694.6,1531.7 1677.1,1531.7 1675,1503.4 1659.7,1501.2 1659.7,1469 1631.6,1467.4 1631.6,1459.3 1599,1459.3 1592.4,1452.7 1585.8,1439.7 1577.7,1423.3 1566.3,1410.3 1553.2,1393.9 1540.1,1380.9 1527.1,1377.6 1514,1377.6 1500.9,1374.3 1487.9,1379.2 1478.1,1387.4 1471.5,1407 1461.7,1420.1 1455.2,1416.8 1438.9,1408.6 1422.6,1398.8 1409.5,1387.4 1396.4,1374.3 1391.5,1361.3 1386.6,1348.2 1378.5,1330.2 1363.8,1322.1 1350.7,1310.7 1337.6,1296 1331.8,1287.8 1331.8,1260.7 1384,1260 1383.4,1233.3 1362.1,1232.3 1362.1,1199.6 1382.7,1198 1382.7,1146.7" fill="#579fc5" stroke="#7d8f93" stroke-width="1.8" stroke-linejoin="round"/>
<polygon points="1478.1,1255.1 1523.8,1255.1 1523.8,1278 1478.1,1278" fill="#fdfdfd" stroke="#9a978b" stroke-width="1.8" stroke-linejoin="round"/>
<polygon points="1548.3,1256.1 1616.9,1256.1 1616.9,1282.2 1594.1,1282.2 1592.4,1278 1566.3,1278 1564.7,1282.9 1548.3,1284.5" fill="#fdfdfd" stroke="#9a978b" stroke-width="1.8" stroke-linejoin="round"/>
<polygon points="1600.6,1283.5 1645.7,1284.5 1646.3,1315.6 1651.9,1317.2 1651.9,1341.7 1635.5,1343.3 1635.5,1349.8 1601.2,1349.8" fill="#fdfdfd" stroke="#9a978b" stroke-width="1.8" stroke-linejoin="round"/>
<polygon points="1696.9,1167.8 1709.9,1153.1 1716.5,1158 1729.5,1156.4 1734.4,1162.9 1744.2,1158 1744.2,1181.9 1698.5,1182.5 1698.5,1211.9 1693.6,1213.5 1693.6,1241.3 1670.7,1241.3 1670.7,1208.6 1677.3,1202.1 1677.3,1180.9 1696.9,1180.9" fill="#579fc5" stroke="#7d8f93" stroke-width="1.8" stroke-linejoin="round"/>
<polygon points="1771.1,1165.3 1784.1,1160.4 1797.2,1158.8 1807,1155.5 1821.7,1153.9 1829.9,1158.8 1842.9,1165.3 1843.6,1184.9 1839.7,1194.7 1841.3,1207.8 1846.2,1217.6 1854.4,1222.5 1862.5,1220.8 1874.9,1222.5 1874.9,1240.4 1854.4,1239.8 1849.5,1242.1 1834.8,1242.1 1833.8,1252.8 1813.5,1252.8 1810.3,1242.1 1785.8,1241.1 1784.1,1230.6 1777.6,1224.1 1776,1184.9 1771.1,1181.6" fill="#45509f" stroke="#6f7390" stroke-width="1.8" stroke-linejoin="round"/>
<polygon points="1813.5,1253.5 1833.8,1252.8 1834.8,1242.1 1849.5,1242.1 1854.4,1239.8 1874.9,1240.4 1874.9,1260 1856,1260.7 1854.4,1266.6 1834.8,1268.2 1834.8,1278 1836.4,1286.2 1831.5,1290.1 1826.6,1284.5 1821.7,1276.4 1818.4,1266.6 1813.5,1263.3" fill="#242e4c" stroke="#5a5e68" stroke-width="1.8" stroke-linejoin="round"/>
<polygon points="1758,1330.2 1771.1,1343.3 1780.9,1354.7 1779.2,1364.5 1784.1,1377.6 1787.4,1390.7 1792.3,1400.5 1797.2,1413.5 1805.4,1425 1793.9,1433.1 1784.1,1434.8 1774.3,1438 1764.5,1446.2 1761.3,1451.1 1754.7,1446.2 1758,1436.4 1748.2,1439.7 1735.1,1444.6 1725.3,1449.5 1715.6,1438 1709,1429.9 1715.6,1418.4 1728.6,1407 1735.1,1393.9 1728.6,1382.5 1741.7,1367.8 1748.2,1358 1744.9,1338.4" fill="#45509f" stroke="#6f7390" stroke-width="1.8" stroke-linejoin="round"/>
<polygon points="1847.8,1313.9 1859.3,1310.7 1878.8,1305.8 1895.2,1304.1 1899.1,1315.6 1896.8,1328.6 1891.9,1341.7 1890.3,1349.8 1885.4,1367.8 1882.1,1380.9 1872.3,1382.5 1869.1,1367.8 1859.3,1358 1846.2,1343.3 1854.4,1328.6" fill="#579fc5" stroke="#7d8f93" stroke-width="1.8" stroke-linejoin="round"/>
<polygon points="1890.3,1349.8 1903.3,1343.3 1905,1346.6 1921.3,1343.3 1939.3,1342.3 1940.9,1358 1939.3,1371.1 1940.9,1386.7 1931.1,1384.1 1921.3,1379.2 1901.7,1379.2 1883.7,1380.9 1885.4,1367.8" fill="#242e4c" stroke="#5a5e68" stroke-width="1.8" stroke-linejoin="round"/>
<polygon points="1940.9,1325.3 1952.3,1313.9 1957.2,1320.5 1975.2,1320.5 1980.1,1325.3 1981.7,1341.7 1986.6,1351.5 1996.4,1358 2001.3,1371.1 2009.5,1380.9 2003,1390.7 1993.2,1387.4 1988.3,1379.2 1981.7,1384.1 1970.3,1385.8 1960.5,1382.5 1950.7,1389 1940.9,1387.4 1939.3,1371.1 1940.9,1358 1939.3,1342.3" fill="#579fc5" stroke="#7d8f93" stroke-width="1.8" stroke-linejoin="round"/>
<polygon points="1978.5,1313.9 1986.6,1309 1993.2,1297.6 2004.6,1294.3 2011.1,1299.2 2012.8,1312.3 2034,1313.9 2034,1332.5 2014.4,1332.5 2009.5,1328.6 1996.4,1330.2 1989.9,1338.4 1981.7,1341.7 1980.1,1325.3" fill="#579fc5" stroke="#7d8f93" stroke-width="1.8" stroke-linejoin="round"/>
<polyline points="1149.8,984.3 1149.8,1055.1 1156.3,1060 1154.7,1176 1159.6,1180.9 1167.8,1172.7 1193.9,1164.6" fill="none" stroke="#80908c" stroke-width="1.8" stroke-linejoin="round"/>
<polyline points="1193.9,984.3 1193.9,1118.8" fill="none" stroke="#80908c" stroke-width="1.8" stroke-linejoin="round"/>
<polyline points="1116.2,1149.9 1154.7,1151.5" fill="none" stroke="#80908c" stroke-width="1.8" stroke-linejoin="round"/>
<polyline points="1193.9,1040.5 1258.6,1040.5" fill="none" stroke="#80908c" stroke-width="1.8" stroke-linejoin="round"/>
<polyline points="1259.2,984.9 1257.6,1029" fill="none" stroke="#80908c" stroke-width="1.8" stroke-linejoin="round"/>
<polyline points="1265.8,984.9 1367,984.3 1368.6,993.1 1360.5,1001.3 1362.1,1022.5 1402.9,1029" fill="none" stroke="#80908c" stroke-width="1.8" stroke-linejoin="round"/>
<polyline points="1362.1,1022.5 1355.6,1038.8 1347.4,1043.7 1331.1,1042.1 1321.3,1045.3" fill="none" stroke="#80908c" stroke-width="1.8" stroke-linejoin="round"/>
<polyline points="1264.8,957.2 1300,960.4 1309.8,983.3" fill="none" stroke="#80908c" stroke-width="1.8" stroke-linejoin="round"/>
<polyline points="1309.8,983.3 1422.5,984.9" fill="none" stroke="#80908c" stroke-width="1.8" stroke-linejoin="round"/>
<polyline points="1466.6,1159.7 1484.6,1159.7 1486.2,1135.2 1514,1133.5 1514,1111.3" fill="none" stroke="#80908c" stroke-width="1.8" stroke-linejoin="round"/>
<polyline points="1509.1,1159.7 1533.6,1159.7" fill="none" stroke="#80908c" stroke-width="1.8" stroke-linejoin="round"/>
<polyline points="1509.1,1159.7 1509.1,1184.2 1533.6,1184.2" fill="none" stroke="#80908c" stroke-width="1.8" stroke-linejoin="round"/>
<polyline points="1466.6,1184.2 1484.6,1184.2 1486.2,1208.6 1533.6,1208.6" fill="none" stroke="#80908c" stroke-width="1.8" stroke-linejoin="round"/>
<polyline points="1484.6,1159.7 1484.6,1184.2" fill="none" stroke="#80908c" stroke-width="1.8" stroke-linejoin="round"/>
<polyline points="1466.6,1160.4 1510.7,1160.4 1510.7,1183.3 1533.6,1184.3" fill="none" stroke="#80908c" stroke-width="1.8" stroke-linejoin="round"/>
<polyline points="1486.2,1135.9 1486.2,1160.4" fill="none" stroke="#80908c" stroke-width="1.8" stroke-linejoin="round"/>
<polyline points="1486.2,1135.9 1514,1134.3 1514,1111.4" fill="none" stroke="#80908c" stroke-width="1.8" stroke-linejoin="round"/>
<polyline points="1466.6,1184.9 1486.2,1185.6 1487.2,1207.8 1504.2,1208.8" fill="none" stroke="#80908c" stroke-width="1.8" stroke-linejoin="round"/>
<polyline points="1466.6,1232.3 1503.5,1232.3 1504.2,1208.8 1581.9,1208.8" fill="none" stroke="#80908c" stroke-width="1.8" stroke-linejoin="round"/>
<polyline points="1551.6,1209.4 1551.6,1253.5" fill="none" stroke="#80908c" stroke-width="1.8" stroke-linejoin="round"/>
<polyline points="1598.9,1209.4 1598.9,1255.1 1645.6,1255.1 1645.6,1232.3" fill="none" stroke="#80908c" stroke-width="1.8" stroke-linejoin="round"/>
<polyline points="1466.6,1184.9 1466.6,1253.5 1384,1260" fill="none" stroke="#80908c" stroke-width="1.8" stroke-linejoin="round"/>
<polyline points="1420.9,1261.7 1417.7,1309 1378.5,1330.2" fill="none" stroke="#80908c" stroke-width="1.8" stroke-linejoin="round"/>
<polyline points="1466.6,1253.5 1478.1,1255.1" fill="none" stroke="#80908c" stroke-width="1.8" stroke-linejoin="round"/>
<polyline points="1523.8,1278 1548.3,1278" fill="none" stroke="#80908c" stroke-width="1.8" stroke-linejoin="round"/>
<polyline points="1548.3,1284.5 1546.7,1307.4 1561.4,1309 1562.3,1349.8 1523.8,1350.8 1524.4,1377.6" fill="none" stroke="#80908c" stroke-width="1.8" stroke-linejoin="round"/>
<polyline points="1562.3,1349.8 1615.2,1351.5 1616.9,1361.3 1602.2,1371.1 1598.9,1413.5 1574.4,1414.2" fill="none" stroke="#80908c" stroke-width="1.8" stroke-linejoin="round"/>
<polyline points="1600.5,1282.9 1600.5,1349.8" fill="none" stroke="#80908c" stroke-width="1.8" stroke-linejoin="round"/>
<polyline points="1615.2,1351.5 1634.8,1349.8 1636.5,1341.7 1670.8,1341" fill="none" stroke="#80908c" stroke-width="1.8" stroke-linejoin="round"/>
<polygon points="2219,577.5 2284.3,577.5 2284.3,599.3 2294.8,600 2296.4,616.3 2293.1,622.9 2294.8,663.7 2299.7,665.3 2299.7,683.3 2296.4,684.9 2295.7,702.9 2296.4,707.8 2348.6,705.2 2356.8,704.5 2365,709.4 2374.8,715.9 2382.9,724.1 2385.6,730.6 2385.6,750.9 2409.1,750.9 2410,744.7 2415.6,745.3 2417.2,750.9 2438.5,750.9 2440.1,769.8 2449.9,771.5 2458.1,776.4 2459.7,782.9 2479.3,776.4 2490.7,773.1 2492.3,825.3 2495.6,831.9 2489.1,838.4 2476,848.2 2469.5,841.7 2464.6,833.5 2449.9,831.9 2433.6,840 2431.9,848.2 2435.2,856.4 2410.7,858 2405.8,867.8 2394.4,869.4 2392.7,877.6 2387.8,890.7 2382.9,884.1 2368.2,890.7 2366.6,861.3 2365,853.1 2353.5,849.8 2350.3,835.1 2296.4,834.5 2296.4,879.2 2281.7,880.9 2275.2,874.3 2267,874.3 2253.9,884.1 2247.4,893.9 2240.9,900.5 2227.8,902.1 2214.7,900.5 2213.1,876 2173.9,876 2169,893.9 2156,911.9 2151.1,931.5 2136.4,931.5 2134.7,923.3 2133.1,910.3 2120,908.6 2119.4,880.9 2095.5,880.2 2093.9,858 2103.7,851.5 2102.1,825.3 2097.2,815.6 2098.8,802.5 2093.9,796 2095.5,773.1 2107,766.6 2126.6,763.3 2129.8,773.1 2139.6,771.5 2141.3,750.2 2172.3,748.6 2173.9,740.4 2188.6,733.9 2198.4,737.2 2200,755.1 2240.9,748.6 2244.1,743.7 2257.2,740.4 2258.8,722.5 2273.5,714.3 2275.2,704.5 2275.2,684.9 2232.7,683.3 2231.1,665.3 2230.4,640.8 2227.2,619.6 2222.9,600" fill="#579fc5" stroke="#7d8f93" stroke-width="1.8" stroke-linejoin="round"/>
<polygon points="2233.7,616.3 2250.7,616.3 2251.6,609.1 2274.2,609.1 2274.2,640.8 2233.7,640.8" fill="#fdfdfd" stroke="#9a978b" stroke-width="1.8" stroke-linejoin="round"/>
<polygon points="2209.8,799.2 2231.1,797.6 2247.4,796 2249,787.8 2276.8,786.8 2277.4,804.1 2262.1,805.8 2260.5,812.3 2244.1,813.9 2243.5,828.6 2242.5,846.6 2231.1,846.6 2230.4,828.6 2211.5,828" fill="#fdfdfd" stroke="#9a978b" stroke-width="1.8" stroke-linejoin="round"/>
<polygon points="2368.2,784.5 2381.3,782.9 2384.6,789.4 2391.1,791.1 2391.1,809 2399.3,815.6 2405.8,825.3 2394.4,833.5 2382.9,840 2366.6,836.8 2365,827 2369.9,812.3 2368.2,796" fill="#fdfdfd" stroke="#9a978b" stroke-width="1.8" stroke-linejoin="round"/>
<polygon points="2067.8,715.9 2100.4,712.7 2123.3,711 2124.9,743.7 2139.6,743.7 2139.6,771.5 2129.8,773.1 2126.6,763.3 2108.6,764.9 2107,743.7 2090.6,733.9 2067.8,733.9" fill="#d5eac4" stroke="#a9ad98" stroke-width="1.8" stroke-linejoin="round"/>
<polygon points="1987.8,858 1995.9,841.7 2004.1,836.8 2009,844.9 2030.2,848.2 2031.9,858 2053.1,851.5 2054.7,840 2072.7,837.8 2074.3,871.1 2077.6,884.1 2067.8,887.4 2054.7,877.6 2041.6,872.7 2030.2,874.3 2002.5,877 2000.8,907 1987.8,908.6" fill="#d5eac4" stroke="#a9ad98" stroke-width="1.8" stroke-linejoin="round"/>
<polygon points="2244.1,895.6 2253.9,884.1 2267,874.3 2275.2,874.3 2281.7,880.9 2286.6,892.3 2296.4,887.4 2306.2,897.2 2319.3,893.9 2330.7,890.7 2338.8,898.8 2351.9,897.2 2361.7,907 2366.6,921.7 2358.4,929.9 2348.6,933.1 2338.8,939.7 2329.1,942.9 2325.8,956 2334,965.8 2351.9,972.3 2363.3,969.1 2371.5,982.1 2384.6,987 2378,995.2 2366.6,1000.1 2360.1,1011.5 2348.6,1021.3 2332.3,1021.3 2319.3,1008.2 2302.9,1005 2280.1,1003.3 2267,988.6 2260.5,972.3 2257.2,959.3 2285.9,957.6 2286.6,939.7 2281.7,933.1 2273.5,926.6 2267,929.9 2253.9,936.4 2247.4,926.6 2242.5,910.3" fill="#d5eac4" stroke="#a9ad98" stroke-width="1.8" stroke-linejoin="round"/>
<polygon points="2368.2,907 2373.1,893.9 2384.6,884.1 2387.8,890.7 2392.7,877.6 2394.4,869.4 2405.8,867.8 2410.7,858 2435.2,856.4 2431.9,848.2 2433.6,840 2449.9,831.9 2464.6,833.5 2469.5,841.7 2476,854.7 2482.6,867.8 2495.6,884.1 2505.4,893.9 2502.1,907 2485.8,916.8 2476,923.3 2482.6,939.7 2472.8,952.7 2459.7,957.6 2446.6,956 2433.6,946.2 2417.2,939.7 2410.7,926.6 2397.6,920.1 2394.4,910.3 2381.3,913.5 2378,923.3 2368.2,920.1" fill="#d5eac4" stroke="#a9ad98" stroke-width="1.8" stroke-linejoin="round"/>
<polygon points="1991,918.4 2002.5,915.2 2025.3,915.2 2035.1,923.3 2046.5,920.1 2054.7,921.7 2062.9,929.9 2058,939.7 2049.8,944.6 2030.2,944.6 2028.6,939.7 2004.1,941.3 2002.5,936.4 1991,936.4" fill="#242e4c" stroke="#5a5e68" stroke-width="1.8" stroke-linejoin="round"/>
<polygon points="2054.7,921.7 2058,913.5 2074.3,908.6 2075.9,902.1 2097.2,900.5 2120,899.8 2120,910.3 2133.1,911.9 2134.7,925 2138,931.5 2149.4,933.1 2147.8,942.9 2141.3,951.1 2133.1,956 2126.6,969.1 2129.8,978.8 2123.3,975.6 2116.8,965.8 2107,972.3 2097.2,982.1 2092.3,980.5 2087.4,969.1 2085.7,956 2080.8,946.2 2071,939.7 2062.9,929.9" fill="#242e4c" stroke="#5a5e68" stroke-width="1.8" stroke-linejoin="round"/>
<polygon points="2138,964.2 2142.9,954.4 2149.4,946.2 2156,936.4 2162.5,934.8 2169,939.7 2175.6,931.5 2182.1,936.4 2188.6,939.7 2198.4,933.1 2204.9,928.2 2211.5,933.1 2213.1,959.3 2206.6,962.5 2200,970.7 2195.1,978.8 2185.3,980.5 2175.6,975.6 2165.8,977.2 2159.2,969.1 2149.4,967.4 2142.9,974" fill="#45509f" stroke="#6f7390" stroke-width="1.8" stroke-linejoin="round"/>
<polygon points="2213.1,936.4 2231.1,931.5 2247.4,926.6 2253.9,936.4 2267,929.9 2273.5,926.6 2281.7,933.1 2286.6,939.7 2285.9,957.6 2260.5,959.3 2255.6,956 2240.9,960.9 2221.3,962.5 2213.1,959.3" fill="#579fc5" stroke="#7d8f93" stroke-width="1.8" stroke-linejoin="round"/>
<polygon points="2366.6,1021.3 2381.3,1008.2 2394.4,1000.1 2399.3,991.9 2414,995.2 2433.6,988.6 2449.9,983.7 2458.1,991.9 2446.6,1005 2430.3,1011.5 2417.2,1021.3" fill="#579fc5" stroke="#7d8f93" stroke-width="1.8" stroke-linejoin="round"/>
<polygon points="2492.3,691.4 2525,673.5 2526.6,688.8 2562.6,688.8 2562.6,711 2560.9,722.5 2551.1,729 2549.5,743.7 2539.7,750.2 2531.5,745.3 2529.9,737.2 2516.8,735.5 2515.2,715.9 2492.3,714.3" fill="#45509f" stroke="#6f7390" stroke-width="1.8" stroke-linejoin="round"/>
<polygon points="2526.6,673.5 2557.7,655.5 2562.6,660.4 2585.4,653.9 2585.4,609.8 2665.4,609.8 2665.4,649 2655.6,652.3 2645.8,660.4 2647.5,670.2 2685,669.2 2686.7,662.1 2703,663.7 2704.6,673.5 2721,676.7 2722.6,709.4 2709.5,711 2704.6,724.1 2691.6,729 2683.4,737.2 2686.7,748.6 2691.6,753.5 2681.8,763.3 2668.7,769.8 2655.6,769.8 2645.8,768.2 2632.8,769.8 2616.5,802.5 2609.9,804.1 2600.1,802.5 2592,825.3 2543,825.3 2543,817.2 2551.1,809 2560.9,796 2570.7,769.8 2564.2,763.3 2557.7,751.9 2551.1,743.7 2551.1,729 2560.9,722.5 2562.6,711 2562.6,688.8 2526.6,688.8" fill="#579fc5" stroke="#7d8f93" stroke-width="1.8" stroke-linejoin="round"/>
<polygon points="2667.1,769.8 2683.4,755.1 2693.2,755.1 2706.3,763.3 2691.6,776.4 2678.5,778" fill="#242e4c" stroke="#5a5e68" stroke-width="1.8" stroke-linejoin="round"/>
<polyline points="2295.7,702.9 2296.4,834.5" fill="none" stroke="#80908c" stroke-width="1.8" stroke-linejoin="round"/>
<polyline points="2296.4,751.9 2317.6,750.9 2319.3,738.8 2337.2,738.8 2338.8,778 2332.3,779.6 2332.3,789.4 2314.4,796 2314.4,813.9 2296.4,814.9" fill="none" stroke="#80908c" stroke-width="1.8" stroke-linejoin="round"/>
<polyline points="2338.8,778 2360.1,776.4 2361.7,766.6 2374.8,766.6 2374.8,750.9 2385.6,750.9" fill="none" stroke="#80908c" stroke-width="1.8" stroke-linejoin="round"/>
<polyline points="2374.8,766.6 2394.4,766.6 2396,774.7 2414,776.4 2415.6,782.9 2438.5,784.5 2440.1,769.8" fill="none" stroke="#80908c" stroke-width="1.8" stroke-linejoin="round"/>
<polyline points="2332.3,789.4 2351.9,792.7 2355.2,802.5 2368.2,796" fill="none" stroke="#80908c" stroke-width="1.8" stroke-linejoin="round"/>
<polyline points="2314.4,813.9 2348.6,815.6 2348.6,825.3" fill="none" stroke="#80908c" stroke-width="1.8" stroke-linejoin="round"/>
<polyline points="2391.1,809 2417.2,799.2 2440.1,797.6 2441.7,786.2" fill="none" stroke="#80908c" stroke-width="1.8" stroke-linejoin="round"/>
<polyline points="2440.1,797.6 2456.4,797.6 2458.1,776.4" fill="none" stroke="#80908c" stroke-width="1.8" stroke-linejoin="round"/>
<polyline points="2456.4,797.6 2456.4,828.6 2464.6,833.5" fill="none" stroke="#80908c" stroke-width="1.8" stroke-linejoin="round"/>
<polyline points="2405.8,825.3 2427,827 2433.6,840" fill="none" stroke="#80908c" stroke-width="1.8" stroke-linejoin="round"/>
<polyline points="2172.3,748.6 2172.3,766.6 2146.2,768.2 2146.2,781.3 2129.8,782.9 2129.8,792.7 2120,802.5 2098.8,809" fill="none" stroke="#80908c" stroke-width="1.8" stroke-linejoin="round"/>
<polyline points="2172.3,766.6 2172.3,851.5 2151.1,853.1 2152.7,876" fill="none" stroke="#80908c" stroke-width="1.8" stroke-linejoin="round"/>
<polyline points="2244.1,748.6 2245.8,796" fill="none" stroke="#80908c" stroke-width="1.8" stroke-linejoin="round"/>
<polyline points="2172.3,782.9 2209.8,781.3 2209.8,799.2" fill="none" stroke="#80908c" stroke-width="1.8" stroke-linejoin="round"/>
<polyline points="2244.1,813.9 2244.1,848.2 2224.5,849.8 2226.2,877.6 2227.8,902.1" fill="none" stroke="#80908c" stroke-width="1.8" stroke-linejoin="round"/>
<polyline points="2275.2,838.4 2296.4,836.8" fill="none" stroke="#80908c" stroke-width="1.8" stroke-linejoin="round"/>
<polyline points="2275.2,838.4 2273.5,874.3" fill="none" stroke="#80908c" stroke-width="1.8" stroke-linejoin="round"/>
<polyline points="2151.1,853.1 2169,858 2172.3,851.5" fill="none" stroke="#80908c" stroke-width="1.8" stroke-linejoin="round"/>
<polyline points="2139.6,877.6 2138,893.9 2120,908.6" fill="none" stroke="#80908c" stroke-width="1.8" stroke-linejoin="round"/>
<polyline points="2172.3,851.5 2221.3,851.5 2226.2,877.6" fill="none" stroke="#80908c" stroke-width="1.8" stroke-linejoin="round"/>
<polyline points="2562.6,711 2605,712.7 2606.7,730.6 2626.3,715.9 2688.3,714.3 2704.6,711" fill="none" stroke="#80908c" stroke-width="1.8" stroke-linejoin="round"/>
<polyline points="2605,712.7 2616.5,707.8 2618.1,688.2 2618.1,653.9 2585.4,653.9" fill="none" stroke="#80908c" stroke-width="1.8" stroke-linejoin="round"/>
<polyline points="2618.1,688.2 2652.4,688.2 2654,670.2" fill="none" stroke="#80908c" stroke-width="1.8" stroke-linejoin="round"/>
<polyline points="2672,670.2 2672,688.2 2688.3,689.8 2688.3,714.3" fill="none" stroke="#80908c" stroke-width="1.8" stroke-linejoin="round"/>
<polyline points="2606.7,730.6 2603.4,737.2 2613.2,743.7 2632.8,753.5 2642.6,748.6 2645.8,768.2" fill="none" stroke="#80908c" stroke-width="1.8" stroke-linejoin="round"/>
<polyline points="2551.1,743.7 2570.7,743.7 2580.5,737.2 2603.4,737.2" fill="none" stroke="#80908c" stroke-width="1.8" stroke-linejoin="round"/>
<polyline points="2564.2,763.3 2580.5,766.6 2600.1,764.9 2613.2,743.7" fill="none" stroke="#80908c" stroke-width="1.8" stroke-linejoin="round"/>
<polygon points="2681.3,554.3 2692.7,544.5 2709,528.2 2725.3,513.5 2741.7,502.1 2751.5,499.8 2883.7,500.4 2885.4,521.6 2883.7,541.2 2875.6,549.4 2860.9,551 2857.6,555.9 2846.2,562.5 2841.3,570.6 2839.7,583.7 2846.2,588.6 2844.6,603.3 2839.7,608.2 2821.7,608.2 2821.7,649 2818.4,662.1 2813.5,678.4 2808.6,689.8 2793.9,683.3 2787.4,680 2777.6,681.7 2766.2,676.8 2764.5,668.6 2756.4,662.1 2758,649 2754.7,626.2 2753.1,613.1 2749.8,603.3 2751.5,560.8 2736.8,560.8 2736.8,588.6 2728.6,595.1 2718.8,600 2709,595.1 2705.8,583.7 2689.4,585.3 2687.8,573.9 2682.9,565.7" fill="#579fc5" stroke="#7d8f93" stroke-width="1.8" stroke-linejoin="round"/>
<polygon points="2185.7,1056.7 2197.2,1051.9 2216.8,1058.4 2233.1,1060 2236.4,1045.3 2247.8,1043.7 2249.4,1037.2 2269,1038.8 2277.2,1047 2272.3,1058.4 2262.5,1066.5 2259.2,1074.7 2251.1,1081.2 2247.8,1095.9 2259.2,1097.6 2264.1,1120.4 2282.1,1118.8 2285.3,1128.6 2303.3,1130.2 2303.3,1146.6 2288.6,1148.2 2285.3,1158 2269,1156.4 2262.5,1159.6 2269,1189 2275.6,1208.6 2277.2,1220 2262.5,1220 2259.2,1189 2257.6,1162.9 2251.1,1153.1 2242.9,1158 2229.8,1158 2220,1162.9 2203.7,1161.3 2190.6,1154.7 2171,1153.1 2169.4,1162.9 2177.6,1171.1 2161.2,1172.7 2156.3,1162.9 2154.7,1149.8 2143.3,1148.2 2144.3,1097.6 2185.7,1095.9 2185.7,1078 2180.8,1064.9 2184.1,1056.7" fill="#579fc5" stroke="#7d8f93" stroke-width="1.8" stroke-linejoin="round"/>
<polygon points="2144.9,991.4 2164.5,984.9 2166.1,1009.4 2171,1022.5 2167.8,1038.8 2185.7,1043.7 2184.1,1056.7 2180.8,1064.9 2185.7,1078 2185.7,1095.9 2153.1,1095.9 2144.3,1097.6 2143.3,1133.5 2140,1156.4 2136.7,1182.5 2135.1,1209.3 2092.7,1208.6 2092.7,1184.1 2073.1,1182.5 2071.4,1169.4 2055.1,1166.8 2055.1,1161.3 2081.2,1158 2082.9,1143.3 2092.7,1141.7 2094.3,1122.1 2102.5,1120.4 2104.1,1102.5 2117.2,1100.8 2120.4,1081.2 2130.2,1074.7 2141.6,1074.7 2151.4,1078 2153.1,1061.6 2154.7,1045.3 2149.8,1029 2151.4,1012.7 2146.5,1002.9" fill="#242e4c" stroke="#5a5e68" stroke-width="1.8" stroke-linejoin="round"/>
<polygon points="2265.8,976.7 2380.1,976.7 2386.6,984.9 2378.4,993.1 2360.5,999.6 2352.3,1004.5 2360.5,1011 2353.9,1019.2 2344.1,1017.6 2337.6,1009.4 2334.3,1002.9 2301.7,1002.9 2275.6,1004.5 2273.9,993.1" fill="#d5eac4"/>
<polygon points="2367,1020.8 2381.7,1004.5 2393.1,993.1 2406.2,989.8 2412.7,994.7 2435.6,986.5 2450.3,983.3 2458.4,993.1 2450.3,1001.2 2435.6,1006.1 2425.8,1015.9 2424.2,1029 2411.1,1032.3 2399.7,1040.4 2389.9,1038.8 2380.1,1030.6 2371.9,1029" fill="#579fc5" stroke="#7d8f93" stroke-width="1.8" stroke-linejoin="round"/>
<polygon points="2318,1094.3 2331.1,1076.3 2337.6,1071.4 2347.4,1073.1 2350.7,1078 2362.1,1079.6 2371.9,1094.3" fill="#45509f" stroke="#6f7390" stroke-width="1.8" stroke-linejoin="round"/>
<polygon points="2367,1109 2386.6,1095.9 2404.6,1091 2411.1,1078 2417.6,1073.1 2425.8,1081.2 2437.2,1087.8 2451.9,1092.7 2448.6,1104.1 2440.5,1120.4 2432.3,1125.3 2412.7,1128.6 2402.9,1133.5 2389.9,1140 2381.7,1127 2373.5,1117.2" fill="#45509f" stroke="#6f7390" stroke-width="1.8" stroke-linejoin="round"/>
<polygon points="2389.9,1140 2402.9,1133.5 2412.7,1128.6 2432.3,1125.3 2438.8,1127 2429.1,1140 2419.3,1153.1 2432.3,1153.1 2445.4,1161.3 2460.1,1171.1 2448.6,1182.5 2435.6,1193.9 2422.5,1190.7 2409.5,1185.8 2399.7,1180.9 2393.1,1172.7 2381.7,1166.2 2380.1,1158 2386.6,1153.1 2398,1154.7 2396.4,1146.6" fill="#242e4c" stroke="#5a5e68" stroke-width="1.8" stroke-linejoin="round"/>
<polygon points="2386.6,1179.2 2393.1,1172.7 2399.7,1180.9 2409.5,1185.8 2422.5,1190.7 2435.6,1193.9 2443.7,1205.3 2435.6,1215.1 2432.3,1224.9 2419.3,1220 2406.2,1215.1 2399.7,1205.3 2398,1195.6 2389.9,1189" fill="#d5eac4" stroke="#a9ad98" stroke-width="1.8" stroke-linejoin="round"/>
<polygon points="2353.9,1184.1 2363.7,1180.9 2373.5,1185.8 2378.4,1180.9 2386.6,1189 2389.9,1198.8 2398,1205.3 2399.7,1215.1 2406.2,1216.8 2422.5,1223.3 2416,1234.7 2411.1,1251.1 2414.4,1264.1 2416,1273.9 2419.3,1288.6 2406.2,1275.6 2396.4,1267.4 2386.6,1270.7 2370.3,1264.1 2381.7,1251.1 2378.4,1241.3 2368.6,1228.2 2378.4,1220 2376.8,1208.6 2367,1197.2 2353.9,1195.6" fill="#579fc5" stroke="#7d8f93" stroke-width="1.8" stroke-linejoin="round"/>
<polygon points="2466.6,1205.3 2484.6,1192.3 2500.9,1189 2512.3,1179.2 2530.3,1187.4 2546.6,1198.8 2530.3,1208.6 2517.2,1221.7 2497.6,1234.7 2484.6,1221.7 2474.8,1213.5" fill="#579fc5" stroke="#7d8f93" stroke-width="1.8" stroke-linejoin="round"/>
<polygon points="2434,1251.1 2447,1246.2 2445.4,1236.4 2451.9,1229.8 2460.1,1238 2463.3,1251.1 2476.4,1260.9 2466.6,1273.9 2455.2,1267.4 2445.4,1259.2" fill="#579fc5" stroke="#7d8f93" stroke-width="1.8" stroke-linejoin="round"/>
<polygon points="2135.1,1209.3 2149.8,1205.3 2158,1198.8 2159.6,1208.6 2180.8,1205.3 2190.6,1193.9 2197.2,1202.1 2216.8,1205.3 2223.3,1215.1 2197.2,1215.1 2195.5,1224.9 2185.7,1215.1 2174.3,1218.4 2172.7,1228.2 2164.5,1231.5 2158,1221.7 2161.2,1238 2171,1244.5 2167.8,1257.6 2151.4,1264.1 2143.3,1275.6 2130.2,1275.6 2131.9,1234.7" fill="#d5eac4" stroke="#a9ad98" stroke-width="1.8" stroke-linejoin="round"/>
<polygon points="2200.4,1228.2 2216.8,1224.9 2226.6,1220 2247.8,1220 2247.8,1234.7 2241.3,1238 2242.9,1246.2 2241.3,1260.9 2228.2,1262.5 2223.3,1251.1 2216.8,1241.3 2205.3,1239.6" fill="#579fc5" stroke="#7d8f93" stroke-width="1.8" stroke-linejoin="round"/>
<polygon points="2172.7,1228.2 2174.3,1218.4 2185.7,1215.1 2195.5,1224.9 2200.4,1238 2205.3,1239.6 2216.8,1241.3 2223.3,1251.1 2228.2,1262.5 2241.3,1260.9 2242.9,1246.2 2267.4,1247.8 2269,1236.4 2282.1,1231.5 2282.1,1215.1 2300,1213.5 2301.7,1231.5 2313.1,1233.1 2314.7,1251.1 2311.5,1262.5 2295.1,1264.1 2288.6,1257.6 2277.2,1254.3 2269,1259.2 2259.2,1265.8 2254.3,1273.9 2242.9,1280.5 2233.1,1282.1 2229.8,1288.6 2223.3,1282.1 2202.1,1283.7 2200.4,1264.1 2203.7,1257.6 2190.6,1254.3 2180.8,1244.5 2172.7,1238" fill="#242e4c" stroke="#5a5e68" stroke-width="1.8" stroke-linejoin="round"/>
<polygon points="2210.2,1285.4 2223.3,1282.1 2229.8,1288.6 2233.1,1282.1 2242.9,1280.5 2254.3,1273.9 2259.2,1265.8 2269,1259.2 2275.6,1254.3 2288.6,1257.6 2291.9,1270.7 2282.1,1273.9 2285.3,1293.5 2283.7,1309.9 2264.1,1313.1 2260.9,1322.9 2267.4,1326.2 2265.8,1340.9 2249.4,1340.9 2247.8,1327.8 2239.6,1326.2 2239,1313.1 2211.9,1313.1" fill="#45509f" stroke="#6f7390" stroke-width="1.8" stroke-linejoin="round"/>
<polygon points="2282.1,1273.9 2291.9,1270.7 2295.1,1264.1 2311.5,1262.5 2314.7,1251.1 2313.1,1233.1 2319.6,1224.9 2332.7,1215.1 2331.1,1202.1 2337.6,1195.6 2344.1,1205.3 2339.2,1218.4 2337.6,1231.5 2340.9,1244.5 2349,1246.2 2350.7,1267.4 2370.3,1269 2378.4,1272.3 2373.5,1290.3 2378.4,1306.6 2381.7,1319.7 2396.4,1331.1 2380.1,1332.7 2367,1334.4 2365.4,1342.5 2368.6,1352.3 2362.1,1358.8 2360.5,1383.3 2350.7,1371.9 2337.6,1365.4 2324.5,1362.1 2314.7,1371.9 2304.9,1370.3 2295.1,1381.7 2283.7,1383.3 2275.6,1376.8 2269,1375.2 2259.2,1362.1 2242.9,1349.1 2249.4,1340.9 2265.8,1340.9 2267.4,1326.2 2260.9,1322.9 2264.1,1313.1 2283.7,1309.9 2285.3,1293.5" fill="#579fc5" stroke="#7d8f93" stroke-width="1.8" stroke-linejoin="round"/>
<polyline points="2758,500.4 2761.3,538 2762.9,557.6 2774.3,557.6 2776,570.6 2787.4,578.8 2813.5,577.2 2815.2,588.6 2821.7,590.2" fill="none" stroke="#80908c" stroke-width="1.8" stroke-linejoin="round"/>
<polyline points="2816.8,500.4 2815.2,538 2813.5,577.2" fill="none" stroke="#80908c" stroke-width="1.8" stroke-linejoin="round"/>
<polyline points="2751.5,560.8 2762.9,557.6" fill="none" stroke="#80908c" stroke-width="1.8" stroke-linejoin="round"/>
<polyline points="2144.3,1133.5 2203.7,1133.5 2223.3,1136.8 2229.8,1158" fill="none" stroke="#80908c" stroke-width="1.8" stroke-linejoin="round"/>
<polyline points="2203.7,1161.3 2203.7,1133.5" fill="none" stroke="#80908c" stroke-width="1.8" stroke-linejoin="round"/>
<polyline points="2247.8,1095.9 2229.8,1094.3 2213.5,1078 2203.7,1087.8 2203.7,1133.5" fill="none" stroke="#80908c" stroke-width="1.8" stroke-linejoin="round"/>
<polyline points="2337.6,1231.5 2321.3,1233.1 2319.6,1267.4 2334.3,1269 2336,1287 2311.5,1288.6 2313.1,1273.9 2291.9,1270.7" fill="none" stroke="#80908c" stroke-width="1.8" stroke-linejoin="round"/>
<polyline points="2334.3,1269 2350.7,1267.4" fill="none" stroke="#80908c" stroke-width="1.8" stroke-linejoin="round"/>
<polyline points="2285.3,1293.5 2303.3,1290.3 2304.9,1301.7 2344.1,1305 2345.8,1331.1 2381.7,1332.7" fill="none" stroke="#80908c" stroke-width="1.8" stroke-linejoin="round"/>
<polyline points="2373.5,1290.3 2373.5,1306.6" fill="none" stroke="#80908c" stroke-width="1.8" stroke-linejoin="round"/>
<polygon points="1824,775.6 1867.5,775.6 1867.5,806.6 1849.5,807.2 1847.9,831.1 1841.3,832.7 1828.3,837.6 1838.1,844.1 1836.4,853.9 1831.5,873.5 1829.9,883.3 1849.5,883.3 1851.1,898 1870.7,899.7 1874,881.7 1873.3,870.3 1877.3,863.7 1900.1,853.9 1913.2,847.4 1919.7,850.7 1927.9,858.8 1921.4,873.5 1919.7,886.6 1919.7,919.3 1900.1,920.9 1900.1,934 1895.2,935.6 1893.6,950.3 1880.5,948.6 1828.3,943.7 1827.6,924.2 1808.7,922.5 1810.3,906.2 1810.3,873.5 1815.2,853.9 1806.1,842.5 1805.4,831.1 1813.6,818 1829.9,816.4 1815.2,803.3 1811.9,793.5 1823.4,791.9" fill="#579fc5" stroke="#7d8f93" stroke-width="1.8" stroke-linejoin="round"/>
<text x="919" y="99.3" font-size="24.5" textLength="91.5" lengthAdjust="spacing" fill="#454545" stroke="#ffffff" stroke-width="3.5" stroke-opacity="0.85" paint-order="stroke" stroke-linejoin="round">Calgary</text>
<text x="1358.4" y="140.7" font-size="21" textLength="76.2" lengthAdjust="spacing" fill="#454545" stroke="#ffffff" stroke-width="3.5" stroke-opacity="0.85" paint-order="stroke" stroke-linejoin="round">Regina</text>
<text x="1682.5" y="178.6" font-size="21" textLength="106.7" lengthAdjust="spacing" fill="#454545" stroke="#ffffff" stroke-width="3.5" stroke-opacity="0.85" paint-order="stroke" stroke-linejoin="round">Winnipeg</text>
<text x="495.1" y="224.5" font-size="20.5" textLength="117" lengthAdjust="spacing" fill="#454545" stroke="#ffffff" stroke-width="3.5" stroke-opacity="0.85" paint-order="stroke" stroke-linejoin="round">Vancouver</text>
<text x="550.6" y="335.5" font-size="21.5" textLength="75.8" lengthAdjust="spacing" fill="#454545" stroke="#ffffff" stroke-width="3.5" stroke-opacity="0.85" paint-order="stroke" stroke-linejoin="round">Seattle</text>
<text x="527.1" y="476" font-size="21.5" textLength="92.7" lengthAdjust="spacing" fill="#454545" stroke="#ffffff" stroke-width="3.5" stroke-opacity="0.85" paint-order="stroke" stroke-linejoin="round">Portland</text>
<text x="1846.2" y="511.9" font-size="21.5" textLength="134" lengthAdjust="spacing" fill="#454545" stroke="#ffffff" stroke-width="3.5" stroke-opacity="0.85" paint-order="stroke" stroke-linejoin="round">Minneapolis</text>
<text x="2873.8" y="390.3" font-size="21" textLength="83.6" lengthAdjust="spacing" fill="#454545" stroke="#ffffff" stroke-width="3.5" stroke-opacity="0.85" paint-order="stroke" stroke-linejoin="round">Quebec</text>
<text x="2660.7" y="481.8" font-size="25" textLength="87.5" lengthAdjust="spacing" fill="#454545" stroke="#ffffff" stroke-width="3.5" stroke-opacity="0.85" paint-order="stroke" stroke-linejoin="round">Ottawa</text>
<text x="3225" y="532.4" font-size="21" textLength="73.5" lengthAdjust="spacing" fill="#454545" stroke="#ffffff" stroke-width="3.5" stroke-opacity="0.85" paint-order="stroke" stroke-linejoin="round">Halifax</text>
<text x="2494.8" y="586.3" font-size="25" textLength="98.9" lengthAdjust="spacing" fill="#454545" stroke="#ffffff" stroke-width="3.5" stroke-opacity="0.85" paint-order="stroke" stroke-linejoin="round">Toronto</text>
<text x="2577.7" y="616.4" font-size="20.5" textLength="105.8" lengthAdjust="spacing" fill="#454545" stroke="#ffffff" stroke-width="3.5" stroke-opacity="0.85" paint-order="stroke" stroke-linejoin="round">Rochester</text>
<text x="2527.8" y="644.1" font-size="20.5" textLength="77.4" lengthAdjust="spacing" fill="#454545" stroke="#ffffff" stroke-width="3.5" stroke-opacity="0.85" paint-order="stroke" stroke-linejoin="round">Buffalo</text>
<text x="2762.9" y="650.6" font-size="21.5" textLength="73.5" lengthAdjust="spacing" fill="#454545" stroke="#ffffff" stroke-width="3.5" stroke-opacity="0.85" paint-order="stroke" stroke-linejoin="round">Albany</text>
<text x="2882.8" y="671.9" font-size="21" textLength="76" lengthAdjust="spacing" fill="#454545" stroke="#ffffff" stroke-width="3.5" stroke-opacity="0.85" paint-order="stroke" stroke-linejoin="round">Boston</text>
<text x="2845.5" y="709.4" font-size="20.5" textLength="120.8" lengthAdjust="spacing" fill="#454545" stroke="#ffffff" stroke-width="3.5" stroke-opacity="0.85" paint-order="stroke" stroke-linejoin="round">Providence</text>
<text x="2089" y="632.7" font-size="20.5" textLength="119" lengthAdjust="spacing" fill="#454545" stroke="#ffffff" stroke-width="3.5" stroke-opacity="0.85" paint-order="stroke" stroke-linejoin="round">Milwaukee</text>
<text x="2232.7" y="634.3" font-size="19" textLength="63.7" lengthAdjust="spacing" fill="#454545" stroke="#ffffff" stroke-width="3.5" stroke-opacity="0.85" paint-order="stroke" stroke-linejoin="round">Grand</text>
<text x="2227.8" y="658.8" font-size="19" textLength="71.8" lengthAdjust="spacing" fill="#454545" stroke="#ffffff" stroke-width="3.5" stroke-opacity="0.85" paint-order="stroke" stroke-linejoin="round">Rapids</text>
<text x="2338.8" y="672.5" font-size="21" textLength="75" lengthAdjust="spacing" fill="#454545" stroke="#ffffff" stroke-width="3.5" stroke-opacity="0.85" paint-order="stroke" stroke-linejoin="round">Detroit</text>
<text x="2116.8" y="711" font-size="24.5" textLength="101" lengthAdjust="spacing" fill="#454545" stroke="#ffffff" stroke-width="3.5" stroke-opacity="0.85" paint-order="stroke" stroke-linejoin="round">Chicago</text>
<text x="2384.6" y="726.7" font-size="21.5" textLength="107.8" lengthAdjust="spacing" fill="#454545" stroke="#ffffff" stroke-width="3.5" stroke-opacity="0.85" paint-order="stroke" stroke-linejoin="round">Cleveland</text>
<text x="2727" y="776.4" font-size="25" textLength="120.8" lengthAdjust="spacing" fill="#454545" stroke="#ffffff" stroke-width="3.5" stroke-opacity="0.85" paint-order="stroke" stroke-linejoin="round">New York</text>
<text x="2459.7" y="793.3" font-size="21.5" textLength="111" lengthAdjust="spacing" fill="#454545" stroke="#ffffff" stroke-width="3.5" stroke-opacity="0.85" paint-order="stroke" stroke-linejoin="round">Pittsburgh</text>
<text x="2658.4" y="822.1" font-size="25" textLength="151.9" lengthAdjust="spacing" fill="#454545" stroke="#ffffff" stroke-width="3.5" stroke-opacity="0.85" paint-order="stroke" stroke-linejoin="round">Philadelphia</text>
<text x="2169" y="832.5" font-size="21.5" textLength="134" lengthAdjust="spacing" fill="#454545" stroke="#ffffff" stroke-width="3.5" stroke-opacity="0.85" paint-order="stroke" stroke-linejoin="round">Indianapolis</text>
<text x="2324" y="822" font-size="22" textLength="111" lengthAdjust="spacing" fill="#454545" stroke="#ffffff" stroke-width="3.5" stroke-opacity="0.85" paint-order="stroke" stroke-linejoin="round">Columbus</text>
<text x="2255.6" y="871" font-size="21.5" textLength="109" lengthAdjust="spacing" fill="#454545" stroke="#ffffff" stroke-width="3.5" stroke-opacity="0.85" paint-order="stroke" stroke-linejoin="round">Cincinnati</text>
<text x="2569" y="884" font-size="25" textLength="148.6" lengthAdjust="spacing" fill="#454545" stroke="#ffffff" stroke-width="3.5" stroke-opacity="0.85" paint-order="stroke" stroke-linejoin="round">Washington</text>
<text x="1015" y="759.8" font-size="20.5" textLength="99" lengthAdjust="spacing" fill="#454545" stroke="#ffffff" stroke-width="3.5" stroke-opacity="0.85" paint-order="stroke" stroke-linejoin="round">Salt Lake</text>
<text x="1043" y="783.3" font-size="20.5" textLength="43" lengthAdjust="spacing" fill="#454545" stroke="#ffffff" stroke-width="3.5" stroke-opacity="0.85" paint-order="stroke" stroke-linejoin="round">City</text>
<text x="1339" y="832.7" font-size="21.5" textLength="77" lengthAdjust="spacing" fill="#454545" stroke="#ffffff" stroke-width="3.5" stroke-opacity="0.85" paint-order="stroke" stroke-linejoin="round">Denver</text>
<text x="1789" y="870.3" font-size="20.5" textLength="125.7" lengthAdjust="spacing" fill="#454545" stroke="#ffffff" stroke-width="3.5" stroke-opacity="0.85" paint-order="stroke" stroke-linejoin="round">Kansas City</text>
<text x="2009" y="898.8" font-size="20.5" textLength="85" lengthAdjust="spacing" fill="#454545" stroke="#ffffff" stroke-width="3.5" stroke-opacity="0.85" paint-order="stroke" stroke-linejoin="round">St Louis</text>
<text x="2203.3" y="923.3" font-size="20.5" textLength="99.6" lengthAdjust="spacing" fill="#454545" stroke="#ffffff" stroke-width="3.5" stroke-opacity="0.85" paint-order="stroke" stroke-linejoin="round">Louisville</text>
<text x="2577.2" y="952.7" font-size="20.5" textLength="111" lengthAdjust="spacing" fill="#454545" stroke="#ffffff" stroke-width="3.5" stroke-opacity="0.85" paint-order="stroke" stroke-linejoin="round">Richmond</text>
<text x="2642.6" y="1010.8" font-size="20.5" textLength="81.6" lengthAdjust="spacing" fill="#454545" stroke="#ffffff" stroke-width="3.5" stroke-opacity="0.85" paint-order="stroke" stroke-linejoin="round">Norfolk</text>
<text x="561" y="896" font-size="20.5" textLength="131.6" lengthAdjust="spacing" fill="#454545" stroke="#ffffff" stroke-width="3.5" stroke-opacity="0.85" paint-order="stroke" stroke-linejoin="round">Sacramento</text>
<text x="508.8" y="947.6" font-size="20.5" textLength="152" lengthAdjust="spacing" fill="#454545" stroke="#ffffff" stroke-width="3.5" stroke-opacity="0.85" paint-order="stroke" stroke-linejoin="round">San Francisco</text>
<text x="668.9" y="1005.4" font-size="20.5" textLength="71" lengthAdjust="spacing" fill="#454545" stroke="#ffffff" stroke-width="3.5" stroke-opacity="0.85" paint-order="stroke" stroke-linejoin="round">Fresno</text>
<text x="860.9" y="1036.4" font-size="20.5" textLength="109.4" lengthAdjust="spacing" fill="#454545" stroke="#ffffff" stroke-width="3.5" stroke-opacity="0.85" paint-order="stroke" stroke-linejoin="round">Las Vegas</text>
<text x="2158" y="1038.8" font-size="21.5" textLength="98" lengthAdjust="spacing" fill="#454545" stroke="#ffffff" stroke-width="3.5" stroke-opacity="0.85" paint-order="stroke" stroke-linejoin="round">Nashville</text>
<text x="2291.2" y="1050.2" font-size="21.5" textLength="97" lengthAdjust="spacing" fill="#454545" stroke="#ffffff" stroke-width="3.5" stroke-opacity="0.85" paint-order="stroke" stroke-linejoin="round">Knoxville</text>
<text x="2455.2" y="1038.1" font-size="21.5" textLength="129" lengthAdjust="spacing" fill="#454545" stroke="#ffffff" stroke-width="3.5" stroke-opacity="0.85" paint-order="stroke" stroke-linejoin="round">Greensboro</text>
<text x="2542.7" y="1069.8" font-size="21.5" textLength="80.7" lengthAdjust="spacing" fill="#454545" stroke="#ffffff" stroke-width="3.5" stroke-opacity="0.85" paint-order="stroke" stroke-linejoin="round">Raleigh</text>
<text x="2429" y="1086" font-size="21.5" textLength="101.2" lengthAdjust="spacing" fill="#454545" stroke="#ffffff" stroke-width="3.5" stroke-opacity="0.85" paint-order="stroke" stroke-linejoin="round">Charlotte</text>
<text x="1637.4" y="1078.7" font-size="20.5" textLength="161.3" lengthAdjust="spacing" fill="#454545" stroke="#ffffff" stroke-width="3.5" stroke-opacity="0.85" paint-order="stroke" stroke-linejoin="round">Oklahoma City</text>
<text x="2007.4" y="1096.7" font-size="21.5" textLength="102.4" lengthAdjust="spacing" fill="#454545" stroke="#ffffff" stroke-width="3.5" stroke-opacity="0.85" paint-order="stroke" stroke-linejoin="round">Memphis</text>
<text x="2351.6" y="1122" font-size="21.5" textLength="108.4" lengthAdjust="spacing" fill="#454545" stroke="#ffffff" stroke-width="3.5" stroke-opacity="0.85" paint-order="stroke" stroke-linejoin="round">Greenville</text>
<text x="700.2" y="1148.5" font-size="25" textLength="148" lengthAdjust="spacing" fill="#454545" stroke="#ffffff" stroke-width="3.5" stroke-opacity="0.85" paint-order="stroke" stroke-linejoin="round">Los Angeles</text>
<text x="1006" y="1187.5" font-size="25" textLength="99.6" lengthAdjust="spacing" fill="#454545" stroke="#ffffff" stroke-width="3.5" stroke-opacity="0.85" paint-order="stroke" stroke-linejoin="round">Phoenix</text>
<text x="2136.8" y="1186.5" font-size="21.5" textLength="135.5" lengthAdjust="spacing" fill="#454545" stroke="#ffffff" stroke-width="3.5" stroke-opacity="0.85" paint-order="stroke" stroke-linejoin="round">Birmingham</text>
<text x="2282.7" y="1178.2" font-size="21.5" textLength="79.4" lengthAdjust="spacing" fill="#454545" stroke="#ffffff" stroke-width="3.5" stroke-opacity="0.85" paint-order="stroke" stroke-linejoin="round">Atlanta</text>
<text x="1714.8" y="1228.2" font-size="25" textLength="72.8" lengthAdjust="spacing" fill="#454545" stroke="#ffffff" stroke-width="3.5" stroke-opacity="0.85" paint-order="stroke" stroke-linejoin="round">Dallas</text>
<text x="780.7" y="1250.8" font-size="24" textLength="85.8" lengthAdjust="spacing" fill="#454545" stroke="#ffffff" stroke-width="3.5" stroke-opacity="0.85" paint-order="stroke" stroke-linejoin="round">Tijuana</text>
<text x="1067.5" y="1256" font-size="20.5" textLength="77.4" lengthAdjust="spacing" fill="#454545" stroke="#ffffff" stroke-width="3.5" stroke-opacity="0.85" paint-order="stroke" stroke-linejoin="round">Tucson</text>
<text x="1271.3" y="1282.2" font-size="20.5" textLength="78.7" lengthAdjust="spacing" fill="#454545" stroke="#ffffff" stroke-width="3.5" stroke-opacity="0.85" paint-order="stroke" stroke-linejoin="round">El Paso</text>
<text x="1672" y="1354" font-size="21.5" textLength="67" lengthAdjust="spacing" fill="#454545" stroke="#ffffff" stroke-width="3.5" stroke-opacity="0.85" paint-order="stroke" stroke-linejoin="round">Austin</text>
<text x="1766" y="1389" font-size="25" textLength="105.5" lengthAdjust="spacing" fill="#454545" stroke="#ffffff" stroke-width="3.5" stroke-opacity="0.85" paint-order="stroke" stroke-linejoin="round">Houston</text>
<text x="1987.3" y="1376" font-size="21.5" textLength="141.4" lengthAdjust="spacing" fill="#454545" stroke="#ffffff" stroke-width="3.5" stroke-opacity="0.85" paint-order="stroke" stroke-linejoin="round">New Orleans</text>
<text x="1594.7" y="1407" font-size="25" textLength="155" lengthAdjust="spacing" fill="#454545" stroke="#ffffff" stroke-width="3.5" stroke-opacity="0.85" paint-order="stroke" stroke-linejoin="round">San Antonio</text>
<text x="2373.5" y="1355.6" font-size="21.5" textLength="130.6" lengthAdjust="spacing" fill="#454545" stroke="#ffffff" stroke-width="3.5" stroke-opacity="0.85" paint-order="stroke" stroke-linejoin="round">Jacksonville</text>
<text x="2411.2" y="1446.8" font-size="21.5" textLength="89.3" lengthAdjust="spacing" fill="#454545" stroke="#ffffff" stroke-width="3.5" stroke-opacity="0.85" paint-order="stroke" stroke-linejoin="round">Orlando</text>
<text x="2365.4" y="1489" font-size="21.5" textLength="77" lengthAdjust="spacing" fill="#454545" stroke="#ffffff" stroke-width="3.5" stroke-opacity="0.85" paint-order="stroke" stroke-linejoin="round">Tampa</text>
<text x="2473" y="1592.7" font-size="21.5" textLength="66.6" lengthAdjust="spacing" fill="#454545" stroke="#ffffff" stroke-width="3.5" stroke-opacity="0.85" paint-order="stroke" stroke-linejoin="round">Miami</text>
<text x="1047" y="1422.7" font-size="20.5" textLength="120" lengthAdjust="spacing" fill="#454545" stroke="#ffffff" stroke-width="3.5" stroke-opacity="0.85" paint-order="stroke" stroke-linejoin="round">Hermosillo</text>
<text x="1271.3" y="1446.2" font-size="20.5" textLength="118" lengthAdjust="spacing" fill="#454545" stroke="#ffffff" stroke-width="3.5" stroke-opacity="0.85" paint-order="stroke" stroke-linejoin="round">Chihuahua</text>
<text x="1405.7" y="1605" font-size="20.5" textLength="87" lengthAdjust="spacing" fill="#454545" stroke="#ffffff" stroke-width="3.5" stroke-opacity="0.85" paint-order="stroke" stroke-linejoin="round">Torreón</text>
<text x="1527.7" y="1599.3" font-size="25" textLength="130.7" lengthAdjust="spacing" fill="#454545" stroke="#ffffff" stroke-width="3.5" stroke-opacity="0.85" paint-order="stroke" stroke-linejoin="round">Monterrey</text>
<text x="1223.7" y="1640.6" font-size="20.5" textLength="91.5" lengthAdjust="spacing" fill="#454545" stroke="#ffffff" stroke-width="3.5" stroke-opacity="0.85" paint-order="stroke" stroke-linejoin="round">Culiacan</text>
<text x="2002.6" y="1610" font-size="21" textLength="77.5" lengthAdjust="spacing" fill="#9a9aa2" font-style="italic">Gulf of</text>
<text x="2004" y="1645" font-size="21" textLength="74" lengthAdjust="spacing" fill="#9a9aa2" font-style="italic">Mexico</text>
<text x="3314" y="276.6" font-size="21" textLength="77.5" lengthAdjust="spacing" fill="#9a9aa2" font-style="italic">Gulf of</text>
<text x="3320.5" y="311.4" font-size="21" textLength="105" lengthAdjust="spacing" fill="#9a9aa2" font-style="italic">Lawrence</text>
<text x="1456" y="818" font-size="24" textLength="356" lengthAdjust="spacing" fill="#e4e4e6">UNITED STATES</text>
</svg>
<div class="w" id="zoom"><div class="d"></div>
<svg width="64" height="128" style="position:absolute;left:0;top:0"><path d="M16 31H46M31 16V46M16 97H46" stroke="#6e6e6e" stroke-width="2" fill="none"/></svg></div>
<div class="w" id="bm"><svg width="64" height="64" viewBox="0 0 64 64">
<rect x="7.300" y="7.300" width="23.400" height="23.400" fill="none" stroke="#555555" stroke-width="1.900"/>
<path d="M26 7.600L21.100 15.900L16.500 19.200L12.600 21.100L12 24L14.500 30M21 30L21.800 23.100L24.500 20.800L27.100 22.500L31 22.800" stroke="#4c4c4c" stroke-width="1.700" fill="none" stroke-linejoin="round"/>
<circle cx="12.800" cy="22.300" r="1.500" fill="#4c4c4c"/>
<path d="M34.400 16.900H45.600V30M38.700 24.500L45.600 30.700L51.900 24.500" stroke="#a6a6a6" stroke-width="1.300" fill="none"/>
<path d="M31.700 48.900H20.800V35.800M14.200 41.600L20.800 35.400L27.800 41.600" stroke="#a6a6a6" stroke-width="1.300" fill="none"/>
<circle cx="46.300" cy="45.900" r="11.200" fill="none" stroke="#4c4c4c" stroke-width="2.100"/>
<path d="M37.500 39.500C40 40.500 41 43 42.500 46C44 49 46 52 47 56.500M50.500 35.500C48 38 47 41 49 42C51 43 53.500 42 56.500 43M47 47.500C49 45.500 52 46.500 52 49C52 51 50 52 49.500 54C49 55.500 50 56.500 51 56.500" stroke="#4c4c4c" stroke-width="1.700" fill="none"/>
</svg></div>
<div class="w" id="cmp"><svg width="64" height="64" viewBox="0 0 64 64"><path d="M32 13L39.500 33H24.500Z" fill="#6e6e6e"/><path d="M25.500 34.500H38.500L32 50Z" fill="#fff" stroke="#6e6e6e" stroke-width="1.600"/></svg></div>
<div class="w" id="legend">
<div class="t">Auction110 Cherry Final Demand<br>Round151</div>
<svg width="600" height="482" style="position:absolute;left:0;top:0">
<defs><linearGradient id="g" x1="0" y1="0" x2="0" y2="1">
<stop offset="0" stop-color="#242e4c"/><stop offset="0.23" stop-color="#45509f"/><stop offset="0.49" stop-color="#579fc5"/><stop offset="0.7" stop-color="#d5eac4"/><stop offset="1" stop-color="#ffffff"/></linearGradient></defs>
<path d="M58 122L101.500 143V166H58Z" fill="#5fa3c7"/>
<rect x="50" y="276" width="48" height="149" fill="url(#g)"/>
<g fill="#4a4a4a"><path d="M112 274.500L104.500 279.500L112 284.500Z"/><path d="M112 309L104.500 314L112 319Z"/><path d="M112 343L104.500 348L112 353Z"/><path d="M112 374.500L104.500 379.500L112 384.500Z"/><path d="M112 414L104.500 419L112 424Z"/></g>
</svg>
<div class="dm">Demand</div>
<div class="n" style="top:268px">4</div><div class="n" style="top:302px">3</div><div class="n" style="top:336px">2</div><div class="n" style="top:368px">1</div><div class="n" style="top:407px">0</div>
</div>
<div id="attr"><span class="l">Esri, HERE, Garmin, USGS, EPA | Esri, HERE</span><span class="r">Powered by Esri</span></div>
</body></html>
